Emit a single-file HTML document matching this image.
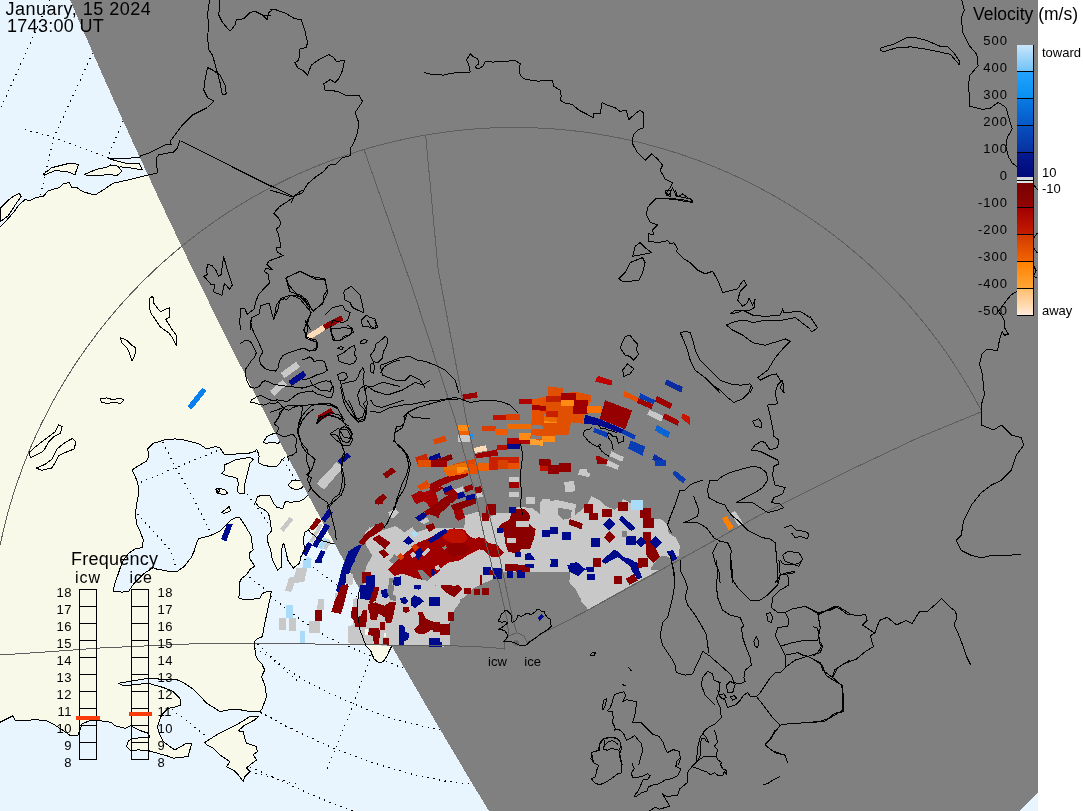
<!DOCTYPE html>
<html><head><meta charset="utf-8"><title>SuperDARN velocity map</title>
<style>
html,body{margin:0;padding:0;background:#fff;}
svg{display:block;}
text{font-family:"Liberation Sans",Arial,sans-serif;fill:#000;}
</style></head><body>
<svg width="1083" height="811" viewBox="0 0 1083 811" shape-rendering="crispEdges">
<defs>
<clipPath id="night"><polygon points="70.1,0 78.6,20 87.3,40 96.0,60 104.8,80 113.7,100 122.7,120 131.8,140 141.0,160 150.3,180 159.6,200 169.1,220 178.6,240 188.2,260 197.9,280 207.8,300 217.7,320 227.6,340 237.7,360 247.9,380 258.1,400 268.5,420 278.9,440 289.5,460 300.1,480 310.8,500 321.6,520 332.5,540 343.5,560 354.5,580 365.7,600 377.0,620 388.3,640 399.7,660 411.3,680 422.9,700 434.6,720 446.4,740 458.3,760 470.2,780 482.3,800 489,811 1083,811 1083,0"/></clipPath>
<clipPath id="day"><polygon points="0,0 70.1,0 78.6,20 87.3,40 96.0,60 104.8,80 113.7,100 122.7,120 131.8,140 141.0,160 150.3,180 159.6,200 169.1,220 178.6,240 188.2,260 197.9,280 207.8,300 217.7,320 227.6,340 237.7,360 247.9,380 258.1,400 268.5,420 278.9,440 289.5,460 300.1,480 310.8,500 321.6,520 332.5,540 343.5,560 354.5,580 365.7,600 377.0,620 388.3,640 399.7,660 411.3,680 422.9,700 434.6,720 446.4,740 458.3,760 470.2,780 482.3,800 489,811 0,811"/></clipPath>
<linearGradient id="g1" x1="0" y1="0" x2="0" y2="1"><stop offset="0" stop-color="#c8e6fa"/><stop offset="1" stop-color="#70c2f8"/></linearGradient>
<linearGradient id="g2" x1="0" y1="0" x2="0" y2="1"><stop offset="0" stop-color="#22a2fe"/><stop offset="1" stop-color="#0890f0"/></linearGradient>
<linearGradient id="g3" x1="0" y1="0" x2="0" y2="1"><stop offset="0" stop-color="#0a7ae2"/><stop offset="1" stop-color="#0658c8"/></linearGradient>
<linearGradient id="g4" x1="0" y1="0" x2="0" y2="1"><stop offset="0" stop-color="#0850c0"/><stop offset="1" stop-color="#0830a0"/></linearGradient>
<linearGradient id="g5" x1="0" y1="0" x2="0" y2="1"><stop offset="0" stop-color="#061a90"/><stop offset="1" stop-color="#020878"/></linearGradient>
<linearGradient id="r1" x1="0" y1="0" x2="0" y2="1"><stop offset="0" stop-color="#780000"/><stop offset="1" stop-color="#920404"/></linearGradient>
<linearGradient id="r2" x1="0" y1="0" x2="0" y2="1"><stop offset="0" stop-color="#a00000"/><stop offset="1" stop-color="#c41c00"/></linearGradient>
<linearGradient id="r3" x1="0" y1="0" x2="0" y2="1"><stop offset="0" stop-color="#d23a00"/><stop offset="1" stop-color="#f26400"/></linearGradient>
<linearGradient id="r4" x1="0" y1="0" x2="0" y2="1"><stop offset="0" stop-color="#ff8000"/><stop offset="1" stop-color="#ffa636"/></linearGradient>
<linearGradient id="r5" x1="0" y1="0" x2="0" y2="1"><stop offset="0" stop-color="#ffbe6e"/><stop offset="1" stop-color="#ffeada"/></linearGradient>
<clipPath id="waterclip">
<polygon points="0.0,-0.4 203.1,-0.4 203.1,151.1 177.3,148.3 173.6,152.0 158.8,154.8 156.0,158.5 157.0,167.7 157.9,172.9 147.7,175.1 129.3,179.7 112.7,183.4 103.4,189.9 95.1,195.0 84.9,192.3 81.3,190.8 77.6,188.0 72.0,187.5 69.3,182.8 63.7,183.4 59.1,187.6 48.0,190.8 43.4,196.3 36.0,197.6 29.5,200.6 24.9,199.5 18.5,205.6 13.9,212.0 7.4,219.4 0.0,226.8"/>
<polygon points="300.0,455.0 284.9,457.5 281.6,460.0 279.9,463.3 276.6,466.6 269.9,466.6 263.3,465.0 258.3,462.5 259.1,456.6 258.3,453.3 256.6,449.1 254.9,451.6 248.3,453.3 242.1,453.3 233.2,454.4 224.3,454.4 219.9,447.8 215.4,446.6 206.5,448.9 199.9,444.4 193.2,442.2 184.3,440.0 175.5,438.9 164.4,440.0 153.3,443.3 147.7,448.9 148.8,456.6 146.6,461.1 138.8,465.5 132.2,470.0 137.7,482.2 138.8,493.3 136.6,504.4 135.5,513.3 136.6,524.4 139.9,531.0 143.3,539.9 142.1,547.7 135.5,548.8 128.8,553.2 122.2,562.1 117.7,575.4 114.4,584.3 113.3,591.0 122.2,592.1 128.8,591.0 133.3,584.3 137.7,579.9 144.4,573.2 153.3,567.6 155.5,568.8 166.6,571.0 177.7,571.0 184.3,566.5 191.0,557.7 194.3,551.0 196.5,543.2 198.8,538.8 202.1,537.7 211.0,535.5 219.9,531.0 226.5,524.4 231.0,520.0 235.4,517.7 239.8,517.7 244.3,524.4 250.9,535.5 253.1,550.0 249.9,552.6 249.2,557.8 251.8,561.7 255.0,566.2 250.5,568.8 246.6,574.6 241.5,578.5 239.5,582.4 239.5,588.9 238.9,597.9 244.0,599.9 251.8,599.2 259.6,598.6 262.2,594.0 264.8,592.1 271.2,591.7 270.6,596.6 268.7,604.4 266.7,614.8 264.8,622.5 263.5,630.3 262.2,636.8 258.3,638.1 255.1,640.7 254.4,645.9 255.7,655.1 258.2,660.0 261.5,663.3 264.8,670.0 261.5,676.7 264.8,685.0 266.5,696.6 262.3,708.3 259.8,711.6 249.8,711.6 241.5,710.0 233.2,709.1 219.9,711.6 214.9,708.3 206.6,703.3 199.9,695.8 193.2,689.1 183.3,682.5 176.6,679.6 159.9,679.1 148.3,678.3 133.3,680.8 118.3,683.3 123.3,685.8 148.3,683.3 163.3,687.5 173.3,691.6 179.9,698.3 180.8,705.0 173.3,707.5 168.3,708.3 161.6,714.9 157.4,726.6 159.9,734.9 163.3,741.6 169.9,746.6 174.9,749.9 186.6,743.3 191.6,743.3 188.2,756.6 173.3,758.2 166.6,755.7 148.3,750.7 138.3,749.9 130.8,750.7 126.6,746.6 128.3,740.8 133.3,738.3 146.6,737.4 149.9,737.4 148.3,733.3 138.3,729.9 130.8,725.8 125.0,728.3 115.0,725.8 111.7,722.4 100.0,720.8 90.0,720.5 82.0,724.0 78.0,735.0 70.0,735.3 62.5,730.1 54.6,724.9 46.8,721.0 36.4,719.7 15.6,721.0 13.0,715.8 7.8,718.4 0.0,722.3 -2.0,722.3 -2.0,815.0 495.0,815.0 495.0,430.0 300.0,440.0"/>
<polygon points="263.3,442.5 266.6,436.7 271.6,434.2 275.7,433.3 279.9,436.7 281.6,440.0 278.2,443.3 271.6,442.5 266.6,443.3"/>
</clipPath>
</defs>
<!-- day side -->
<rect x="0" y="0" width="1083" height="811" fill="#f9f9ea"/>
<g clip-path="url(#day)">
<g fill="#e8f5fe" stroke="none">
<polygon points="0.0,-0.4 203.1,-0.4 203.1,151.1 177.3,148.3 173.6,152.0 158.8,154.8 156.0,158.5 157.0,167.7 157.9,172.9 147.7,175.1 129.3,179.7 112.7,183.4 103.4,189.9 95.1,195.0 84.9,192.3 81.3,190.8 77.6,188.0 72.0,187.5 69.3,182.8 63.7,183.4 59.1,187.6 48.0,190.8 43.4,196.3 36.0,197.6 29.5,200.6 24.9,199.5 18.5,205.6 13.9,212.0 7.4,219.4 0.0,226.8"/>
<polygon points="300.0,455.0 284.9,457.5 281.6,460.0 279.9,463.3 276.6,466.6 269.9,466.6 263.3,465.0 258.3,462.5 259.1,456.6 258.3,453.3 256.6,449.1 254.9,451.6 248.3,453.3 242.1,453.3 233.2,454.4 224.3,454.4 219.9,447.8 215.4,446.6 206.5,448.9 199.9,444.4 193.2,442.2 184.3,440.0 175.5,438.9 164.4,440.0 153.3,443.3 147.7,448.9 148.8,456.6 146.6,461.1 138.8,465.5 132.2,470.0 137.7,482.2 138.8,493.3 136.6,504.4 135.5,513.3 136.6,524.4 139.9,531.0 143.3,539.9 142.1,547.7 135.5,548.8 128.8,553.2 122.2,562.1 117.7,575.4 114.4,584.3 113.3,591.0 122.2,592.1 128.8,591.0 133.3,584.3 137.7,579.9 144.4,573.2 153.3,567.6 155.5,568.8 166.6,571.0 177.7,571.0 184.3,566.5 191.0,557.7 194.3,551.0 196.5,543.2 198.8,538.8 202.1,537.7 211.0,535.5 219.9,531.0 226.5,524.4 231.0,520.0 235.4,517.7 239.8,517.7 244.3,524.4 250.9,535.5 253.1,550.0 249.9,552.6 249.2,557.8 251.8,561.7 255.0,566.2 250.5,568.8 246.6,574.6 241.5,578.5 239.5,582.4 239.5,588.9 238.9,597.9 244.0,599.9 251.8,599.2 259.6,598.6 262.2,594.0 264.8,592.1 271.2,591.7 270.6,596.6 268.7,604.4 266.7,614.8 264.8,622.5 263.5,630.3 262.2,636.8 258.3,638.1 255.1,640.7 254.4,645.9 255.7,655.1 258.2,660.0 261.5,663.3 264.8,670.0 261.5,676.7 264.8,685.0 266.5,696.6 262.3,708.3 259.8,711.6 249.8,711.6 241.5,710.0 233.2,709.1 219.9,711.6 214.9,708.3 206.6,703.3 199.9,695.8 193.2,689.1 183.3,682.5 176.6,679.6 159.9,679.1 148.3,678.3 133.3,680.8 118.3,683.3 123.3,685.8 148.3,683.3 163.3,687.5 173.3,691.6 179.9,698.3 180.8,705.0 173.3,707.5 168.3,708.3 161.6,714.9 157.4,726.6 159.9,734.9 163.3,741.6 169.9,746.6 174.9,749.9 186.6,743.3 191.6,743.3 188.2,756.6 173.3,758.2 166.6,755.7 148.3,750.7 138.3,749.9 130.8,750.7 126.6,746.6 128.3,740.8 133.3,738.3 146.6,737.4 149.9,737.4 148.3,733.3 138.3,729.9 130.8,725.8 125.0,728.3 115.0,725.8 111.7,722.4 100.0,720.8 90.0,720.5 82.0,724.0 78.0,735.0 70.0,735.3 62.5,730.1 54.6,724.9 46.8,721.0 36.4,719.7 15.6,721.0 13.0,715.8 7.8,718.4 0.0,722.3 -2.0,722.3 -2.0,815.0 495.0,815.0 495.0,430.0 300.0,440.0"/>
<polygon points="263.3,442.5 266.6,436.7 271.6,434.2 275.7,433.3 279.9,436.7 281.6,440.0 278.2,443.3 271.6,442.5 266.6,443.3"/>
</g>
<g clip-path="url(#waterclip)" fill="none" stroke="#000" stroke-width="1.2" stroke-dasharray="1.3 4.5">
<polyline points="49.6,0.0 0.0,110.0"/>
<polyline points="116.0,0.0 91.2,56.2 53.8,137.5 40.0,197.5"/>
<polyline points="25.0,129.5 53.8,137.5 107.5,157.5 140.0,170.0"/>
<polyline points="140.0,90.0 122.5,122.5 107.5,157.5"/>
<polyline points="160.0,437.0 164.4,445.5 175.5,467.7 193.2,497.7 211.0,533.2 230.0,570.0"/>
<polyline points="130.0,486.0 138.8,483.3 175.5,467.7 213.2,452.2 240.0,442.0"/>
<polyline points="130.0,505.0 136.6,513.3 153.3,531.0 171.0,551.0 175.5,566.5"/>
<polyline points="240.0,485.0 246.5,493.3 256.6,506.6 264.9,518.2 268.2,523.2"/>
<polyline points="280.0,455.0 284.9,461.6 288.2,468.3 294.9,478.3 300.0,486.0"/>
<polyline points="240.0,570.0 247.9,575.9 255.7,582.4 264.8,588.9 271.2,596.6 277.7,601.8 285.5,608.3 295.9,616.1 306.2,623.8 313.9,627.9 327.7,637.6 338.6,642.2 354.2,648.9 369.7,655.5 387.4,662.2 405.1,668.8 430.0,678.0"/>
<polyline points="300.0,555.0 312.7,566.8 319.2,572.0 327.7,578.0 329.5,579.8 337.3,585.0 345.7,590.5 358.2,597.4 376.2,637.6"/>
<polyline points="161.3,704.1 169.9,708.3 188.2,721.6 208.2,737.9"/>
<polyline points="257.6,644.2 279.7,665.0 300.0,683.0"/>
<polyline points="259.8,711.6 280.3,723.3 300.0,733.0"/>
<polyline points="249.8,771.7 279.7,779.5 300.0,785.0"/>
<polyline points="250.0,645.0 256.6,648.9 283.2,666.6 305.4,681.0 327.6,692.1 351.9,703.2 374.1,712.0 396.3,719.8 418.4,725.3 440.6,729.8 470.0,735.0"/>
<polyline points="255.0,711.0 262.2,713.1 283.2,724.2 305.4,735.3 334.2,748.6 360.8,758.6 387.4,767.4 416.2,775.2 442.8,780.7 469.4,784.0 490.0,786.0"/>
<polyline points="250.0,767.0 258.9,770.7 283.2,781.8 307.6,792.9 334.2,804.0 351.9,810.6 356.0,813.0"/>
<polyline points="372.0,654.0 369.7,660.0 363.0,677.7 354.2,702.0 345.3,724.2 336.4,746.4 325.3,773.0"/>
</g>
<g fill="#f9f9ea" stroke="none">
<polygon points="221.6,473.3 225.0,470.0 224.2,465.0 228.3,463.3 234.9,460.0 243.3,458.3 249.9,457.5 253.3,459.1 249.9,463.3 248.3,470.0 246.6,476.6 244.9,483.3 244.1,493.3 239.9,494.1 237.4,491.6 238.3,483.3 237.4,478.3 231.6,476.6 226.6,475.8"/>
<polygon points="255.7,502.2 257.6,496.7 261.3,495.3 269.6,495.3 271.5,498.5 273.3,503.1 277.0,507.3 282.6,508.7 284.4,504.1 285.3,501.7 291.8,502.2 299.2,501.3 303.8,499.4 306.6,496.7 308.9,493.9 350.0,494.0 350.0,545.0 332.5,543.8 320.0,540.0 310.0,532.0 308.5,530.0 305.2,531.8 303.8,536.4 303.4,542.9 305.2,548.5 304.9,550.0 301.0,556.5 299.7,563.0 293.3,568.1 287.9,560.4 285.5,550.0 285.3,549.4 283.9,543.8 282.6,544.8 281.6,550.0 281.6,566.8 277.7,570.1 272.5,560.4 270.6,550.0 268.7,544.8 267.3,540.1 267.8,535.5 271.5,530.9 270.5,522.6 269.6,517.0 267.8,512.4 264.1,509.6 258.5,506.8"/>
<polygon points="204.9,742.4 216.6,734.9 226.5,729.9 236.5,724.9 249.9,716.6 258.2,716.6 254.8,719.9 244.9,724.9 238.2,730.8 243.2,731.6 244.9,738.3 246.5,743.3 256.5,746.6 257.3,751.6 253.2,754.9 256.5,759.9 249.9,764.9 246.5,768.2 249.9,771.6 244.9,776.6 243.2,781.5 238.2,774.9 233.2,769.9 226.5,766.6 229.9,761.6 219.9,754.9 213.2,748.2 206.6,744.9"/>
<polygon points="358.5,594.0 363.1,575.5 372.4,553.9 380.0,540.0 420.0,540.0 420.0,646.0 391.6,646.4 389.3,651.0 386.3,657.2 383.2,661.8 378.5,662.6 373.9,658.7 370.8,651.0 366.2,646.4 360.0,630.0 357.0,610.0"/>
<polygon points="215.8,489.1 220.0,488.3 225.0,489.9 227.5,493.3 224.1,494.9 219.1,493.3"/>
<polygon points="221.6,512.4 225.0,509.9 229.1,506.6 230.8,510.8 227.5,512.4 223.3,513.3"/>
<polygon points="288.1,485.1 290.0,482.8 292.7,480.0 302.9,480.0 303.8,485.6 301.1,488.3 296.4,489.7 291.8,488.3"/>
<polygon points="215.8,491.0 220.0,489.0 218.0,494.0"/><polygon points="43.4,174.2 51.7,167.7 70.2,163.1 78.5,164.4 74.8,175.1 70.2,172.3 55.4,170.5 44.3,175.1"/>
<polygon points="84.0,174.7 96.0,169.5 106.2,167.3 110.8,164.9 118.2,166.2 121.9,171.4 116.3,176.0 110.8,174.2 103.4,175.1 96.0,176.0 86.8,175.1"/>
<polygon points="0.9,207.4 7.4,200.9 14.8,195.4 19.4,193.6 21.2,196.3 16.6,202.8 12.0,210.2 8.3,215.7 2.8,219.8 0.0,221.3"/>
<polygon points="108.0,158.5 129.3,164.0 139.4,163.6 142.2,169.9 129.3,167.7 120.0,166.8"/>
</g>
</g>
<!-- night side -->
<polygon fill="#808080" shape-rendering="crispEdges" points="70.1,0.0 74.4,10.0 78.6,20.0 83.0,30.0 87.3,40.0 91.6,50.0 96.0,60.0 100.4,70.0 104.8,80.0 109.3,90.0 113.7,100.0 118.2,110.0 122.7,120.0 127.3,130.0 131.8,140.0 136.4,150.0 141.0,160.0 145.6,170.0 150.3,180.0 154.9,190.0 159.6,200.0 164.3,210.0 169.1,220.0 173.8,230.0 178.6,240.0 183.4,250.0 188.2,260.0 193.1,270.0 197.9,280.0 202.8,290.0 207.8,300.0 212.7,310.0 217.7,320.0 222.6,330.0 227.6,340.0 232.7,350.0 237.7,360.0 242.8,370.0 247.9,380.0 253.0,390.0 258.1,400.0 263.3,410.0 268.5,420.0 273.7,430.0 278.9,440.0 284.2,450.0 289.5,460.0 294.8,470.0 300.1,480.0 305.4,490.0 310.8,500.0 316.2,510.0 321.6,520.0 327.0,530.0 332.5,540.0 338.0,550.0 343.5,560.0 349.0,570.0 354.5,580.0 360.1,590.0 365.7,600.0 371.3,610.0 377.0,620.0 382.6,630.0 388.3,640.0 394.0,650.0 399.7,660.0 405.5,670.0 411.3,680.0 417.1,690.0 422.9,700.0 428.7,710.0 434.6,720.0 440.5,730.0 446.4,740.0 452.3,750.0 458.3,760.0 464.2,770.0 470.2,780.0 476.2,790.0 482.3,800.0 488.4,810.0 489.0,811.0 1083,811 1083,0"/>

<g id="radar" shape-rendering="crispEdges">
<line stroke="#ffdcb8" stroke-width="5.5" x1="307.0" y1="338.2" x2="324.0" y2="327.4"/>
<line stroke="#8a0000" stroke-width="5.5" x1="324.0" y1="327.4" x2="342.5" y2="317.8"/>
<line stroke="#c8c8c8" stroke-width="6.5" x1="272.2" y1="393.3" x2="284.8" y2="382.1"/>
<line stroke="#c8c8c8" stroke-width="6.5" x1="282.6" y1="375.5" x2="298.1" y2="364.4"/>
<line stroke="#000a8c" stroke-width="6" x1="290.0" y1="383.6" x2="304.8" y2="373.3"/>
<polygon fill="#000a8c" points="337.3,460.7 347.0,452.6 351.1,456.3 341.0,464.4"/>
<polygon fill="#c8c8c8" points="316.6,483.6 336.6,462.2 343.3,467.4 324.0,489.6"/>
<polygon fill="#8a0000" points="382.5,474.0 392.1,467.4 395.8,471.8 386.2,478.5"/>
<polygon fill="#8a0000" points="374.4,500.7 383.2,493.3 386.9,497.7 378.1,505.1"/>
<polygon fill="#c8c8c8" points="388.4,514.7 395.1,508.8 399.5,512.5 392.9,518.4"/>
<polygon fill="#e65000" points="415.1,457.7 426.2,453.3 430.0,462.9 418.0,467.4"/>
<polygon fill="#e65000" points="417.3,485.9 427.6,480.7 430.0,488.1 421.0,490.3"/>
<line stroke="#c8c8c8" stroke-width="4.5" x1="281.8" y1="530.3" x2="291.5" y2="518.4"/>
<polygon fill="#9a0000" points="462.3,394.6 476.9,392.1 477.8,397.4 463.0,399.9"/>
<polygon fill="#ff8a14" points="457.5,425.1 468.6,425.1 468.6,431.3 457.5,431.3"/>
<polygon fill="#f06000" points="458.9,431.3 468.6,431.3 468.6,434.8 458.9,434.8"/>
<polygon fill="#c8c8c8" points="457.5,434.8 469.9,434.8 469.9,441.7 457.5,441.7"/>
<polygon fill="#1492f5" points="469.9,434.1 472.7,434.1 472.7,438.9 469.9,438.9"/>
<polygon fill="#dc4600" points="433.2,439.6 445.0,435.5 446.8,441.0 434.6,444.5"/>
<polygon fill="#c82800" points="415.2,457.6 426.3,453.5 429.8,462.5 418.7,467.3"/>
<polygon fill="#000a8c" points="428.4,457.0 439.5,453.1 440.9,457.6 429.8,461.8"/>
<polygon fill="#800000" points="429.8,461.8 451.2,454.2 452.9,459.0 431.9,467.3"/>
<polygon fill="#dc4600" points="444.3,467.3 466.5,460.4 474.8,459.0 475.5,472.3 444.3,472.3"/>
<polygon fill="#ff8a14" points="455.4,467.3 466.5,467.3 466.5,472.3 455.4,472.3"/>
<polygon fill="#ffdcb8" points="474.1,448.0 485.9,445.2 487.0,450.7 474.8,452.8"/>
<polygon fill="#a00000" points="474.8,454.2 497.0,449.3 498.3,455.6 476.2,458.3"/>
<polygon fill="#b41000" points="497.0,445.2 506.6,445.2 506.6,450.0 497.0,450.0"/>
<polygon fill="#000a8c" points="506.6,443.8 519.8,443.8 519.8,448.6 506.6,448.6"/>
<polygon fill="#b00000" points="507.3,438.3 529.5,438.3 529.5,443.8 507.3,443.8"/>
<polygon fill="#ff8a14" points="519.1,432.7 531.6,432.7 531.6,439.6 519.1,439.6"/>
<polygon fill="#ffa030" points="530.2,438.9 542.7,438.9 542.7,445.2 530.2,445.2"/>
<polygon fill="#dc3c00" points="481.7,425.8 495.6,425.8 495.6,431.3 481.7,431.3"/>
<polygon fill="#f05a00" points="494.9,429.3 508.0,429.3 508.0,434.8 494.9,434.8"/>
<polygon fill="#c01000" points="492.8,414.7 506.0,414.7 506.0,420.2 492.8,420.2"/>
<polygon fill="#dc4000" points="506.0,414.0 519.8,414.0 519.8,419.6 506.0,419.6"/>
<polygon fill="#f06a00" points="506.6,423.7 531.6,423.7 531.6,429.3 506.6,429.3"/>
<polygon fill="#b00000" points="519.1,398.8 533.0,398.8 533.0,404.3 519.1,404.3"/>
<polygon fill="#e85000" points="531.6,399.5 550.0,396.0 550.0,441.7 542.7,441.7 530.2,437.6 531.6,429.3 530.9,423.7 532.3,418.2"/>
<polygon fill="#ff8a14" points="544.0,418.2 550.0,418.2 550.0,425.1 544.0,425.1"/>
<polygon fill="#ff8a14" points="542.7,433.4 550.0,433.4 550.0,440.3 542.7,440.3"/>
<polygon fill="#c82000" points="488.6,457.0 519.1,457.0 519.1,469.4 488.6,469.4"/>
<polygon fill="#d04000" points="497.0,462.5 519.1,462.5 519.1,469.4 497.0,469.4"/>
<polygon fill="#8a0000" points="538.5,459.0 550.0,459.0 550.0,465.3 538.5,465.3"/>
<polygon fill="#f06000" points="548.2,386.3 550.0,386.3 550.0,391.9 548.2,391.9"/>
<polygon fill="#e05000" points="540.0,400.2 548.3,397.4 547.6,386.3 563.5,388.4 562.9,393.2 576.7,391.9 591.2,395.3 590.6,401.6 587.8,405.7 587.1,412.6 584.3,415.4 582.9,423.7 571.2,422.3 568.4,434.8 554.5,435.5 553.9,442.4 542.1,441.7 540.0,442.4"/>
<polygon fill="#a00000" points="560.8,393.2 576.0,393.2 576.0,400.2 560.8,400.2"/>
<polygon fill="#a00000" points="573.2,400.2 587.8,400.2 587.8,414.0 573.2,414.0"/>
<polygon fill="#c02000" points="545.5,396.0 560.8,396.0 560.8,401.6 545.5,401.6"/>
<polygon fill="#c00000" points="540.0,405.7 545.5,405.7 545.5,411.2 540.0,411.2"/>
<polygon fill="#c82000" points="545.5,411.2 558.0,411.2 558.0,416.8 545.5,416.8"/>
<polygon fill="#ff8a14" points="560.8,400.2 573.9,400.2 573.9,405.7 560.8,405.7"/>
<polygon fill="#ff8a14" points="544.2,418.2 556.6,418.2 556.6,423.0 544.2,423.0"/>
<polygon fill="#ff8a14" points="542.1,436.2 554.5,436.2 554.5,441.7 542.1,441.7"/>
<polygon fill="#ff7000" points="587.1,405.7 600.9,405.7 600.9,412.6 587.1,412.6"/>
<polygon fill="#ffa030" points="540.0,440.3 542.8,440.3 542.8,445.9 540.0,445.9"/>
<polygon fill="#c00000" points="596.1,378.0 598.2,375.9 612.7,380.8 611.3,385.6 595.4,381.5"/>
<polygon fill="#960000" points="605.1,400.2 632.1,410.6 625.2,429.3 599.6,418.9"/>
<polygon fill="#000a8c" points="585.0,414.7 599.6,418.9 623.1,429.3 621.7,433.4 598.2,425.1 583.6,423.7"/>
<polygon fill="#0a3cb4" points="594.7,427.9 607.9,432.7 606.5,437.6 593.3,432.0"/>
<polygon fill="#0a3cb4" points="623.1,429.3 635.6,435.5 634.2,439.6 621.7,433.4"/>
<polygon fill="#0a3cb4" points="630.7,440.3 645.3,446.6 642.5,455.6 628.0,448.6"/>
<polygon fill="#e85000" points="624.5,391.2 638.3,397.4 637.0,402.2 623.1,396.0"/>
<polygon fill="#0a3cb4" points="640.4,393.2 655.0,400.2 653.6,404.3 639.0,398.1"/>
<polygon fill="#a00000" points="638.3,398.1 652.9,404.3 651.5,409.2 637.0,402.9"/>
<polygon fill="#a00000" points="657.0,396.0 672.3,403.6 670.2,409.2 655.0,401.6"/>
<polygon fill="#c8c8c8" points="649.4,409.6 663.3,416.1 661.2,421.6 647.3,414.7"/>
<polygon fill="#a00000" points="664.7,413.3 679.2,420.9 677.8,425.8 662.6,418.2"/>
<polygon fill="#0a64d2" points="657.0,425.1 670.2,432.0 668.1,438.3 655.0,430.6"/>
<polygon fill="#0a2ca0" points="666.7,379.4 682.7,387.0 681.3,392.5 664.7,384.2"/>
<polygon fill="#c81400" points="682.7,413.3 690.0,416.8 690.0,425.1 681.3,418.2"/>
<polygon fill="#0a2ca0" points="654.3,454.2 666.0,461.1 664.0,466.6 652.2,459.7"/>
<polygon fill="#c8c8c8" points="611.3,451.4 623.8,457.0 622.4,461.8 609.9,456.3"/>
<polygon fill="#a00000" points="596.8,455.3 608.6,460.4 607.2,464.6 595.4,459.4"/>
<polygon fill="#c8c8c8" points="607.9,460.0 618.9,465.3 617.6,469.4 606.2,463.9"/>
<polygon fill="#8a0000" points="540.0,459.7 551.1,459.7 551.1,465.3 540.0,465.3"/>
<polygon fill="#8a0000" points="548.3,465.3 559.4,465.3 559.4,472.3 548.3,472.3"/>
<polygon fill="#8a0000" points="559.4,463.2 570.5,463.2 570.5,470.8 559.4,470.8"/>
<polygon fill="#c8c8c8" points="579.5,469.4 587.1,469.4 587.1,472.3 579.5,472.3"/>
<polygon fill="#c8c8c8" points="465.1,515.4 477.6,511.9 484.5,520.9 497.0,512.6 510.8,512.6 517.7,507.1 531.6,507.8 539.9,514.0 550.0,512.6 550.0,572.3 441.6,572.3 444.3,559.7 458.2,550.0 467.9,537.6 466.5,526.5"/>
<polygon fill="#c8c8c8" points="400.0,527.9 408.3,526.5 415.2,532.0 408.3,543.1 400.0,545.9"/>
<polygon fill="#e87000" points="442.9,466.9 466.5,462.1 469.3,473.9 447.1,476.6"/>
<polygon fill="#ff9010" points="456.8,466.9 467.9,466.9 467.9,472.5 456.8,472.5"/>
<polygon fill="#e85000" points="469.3,464.2 477.6,464.2 477.6,473.9 469.3,473.9"/>
<polygon fill="#f06000" points="477.6,462.8 488.6,462.8 488.6,471.1 477.6,471.1"/>
<polygon fill="#c82000" points="488.6,464.2 498.3,464.2 498.3,470.4 488.6,470.4"/>
<polygon fill="#d84000" points="498.3,460.0 508.0,460.0 508.0,468.3 498.3,468.3"/>
<polygon fill="#e85000" points="508.0,462.8 519.1,462.8 519.1,469.0 508.0,469.0"/>
<polygon fill="#e05000" points="418.0,460.0 430.5,460.0 430.5,466.9 418.0,466.9"/>
<polygon fill="#9a0000" points="430.5,460.0 447.1,460.0 447.1,466.9 430.5,466.9"/>
<polygon fill="#c8c8c8" points="509.4,476.6 519.1,476.6 519.1,482.2 509.4,482.2"/>
<polygon fill="#a00000" points="509.4,482.2 519.1,482.2 519.1,487.7 509.4,487.7"/>
<polygon fill="#c8c8c8" points="509.4,491.9 519.1,491.9 519.1,497.4 509.4,497.4"/>
<polygon fill="#900000" points="485.9,504.3 495.6,504.3 495.6,515.4 485.9,515.4"/>
<polygon fill="#900000" points="482.4,512.6 488.6,512.6 488.6,520.9 482.4,520.9"/>
<polygon fill="#c8c8c8" points="526.0,497.4 535.0,497.4 535.0,503.6 526.0,503.6"/>
<polygon fill="#c8c8c8" points="542.0,498.8 550.0,498.8 550.0,507.1 542.0,507.1"/>
<polygon fill="#9a0000" points="404.2,537.6 413.9,533.4 427.7,537.6 441.6,529.3 449.9,527.9 460.9,532.0 472.0,537.6 483.1,537.6 488.6,543.1 497.0,544.5 503.9,552.8 499.7,557.0 491.4,557.0 483.1,550.0 469.3,551.4 459.6,555.6 448.5,557.0 445.7,565.3 437.4,572.3 400.0,572.3 400.0,543.1"/>
<polygon fill="#000a8c" points="426.3,538.9 444.3,527.9 447.1,532.0 429.1,543.1"/>
<polygon fill="#000a8c" points="405.5,537.6 412.5,537.6 412.5,545.9 405.5,545.9"/>
<polygon fill="#aadcfa" points="409.7,530.6 418.0,530.6 418.0,537.6 409.7,537.6"/>
<polygon fill="#c8c8c8" points="409.7,551.4 416.6,551.4 416.6,559.7 409.7,559.7"/>
<polygon fill="#c8c8c8" points="420.8,545.9 429.1,545.9 429.1,555.6 420.8,555.6"/>
<polygon fill="#c8c8c8" points="408.3,543.1 412.5,543.1 412.5,548.6 408.3,548.6"/>
<polygon fill="#000a8c" points="415.2,547.3 423.5,547.3 423.5,557.0 415.2,557.0"/>
<polygon fill="#000a8c" points="415.2,557.0 420.8,557.0 420.8,563.9 415.2,563.9"/>
<polygon fill="#e05000" points="400.0,551.4 405.5,551.4 405.5,559.7 400.0,559.7"/>
<polygon fill="#c8c8c8" points="433.2,563.9 440.2,563.9 440.2,570.8 433.2,570.8"/>
<polygon fill="#c01000" points="441.6,532.0 455.4,532.0 455.4,543.1 441.6,543.1"/>
<polygon fill="#8a0000" points="510.8,508.5 524.7,508.5 530.2,515.4 528.8,523.7 535.7,529.3 534.3,537.6 530.2,548.6 521.9,548.6 517.7,554.2 508.0,551.4 505.3,543.1 503.9,532.0 497.0,532.0 499.7,525.1 509.4,519.6 510.8,515.4"/>
<polygon fill="#c8c8c8" points="516.3,520.9 528.8,520.9 528.8,526.5 516.3,526.5"/>
<polygon fill="#c8c8c8" points="506.6,537.6 516.3,537.6 516.3,543.1 506.6,543.1"/>
<polygon fill="#000a8c" points="509.4,507.1 516.3,507.1 516.3,512.6 509.4,512.6"/>
<polygon fill="#000a8c" points="497.0,527.9 503.2,527.9 503.2,533.4 497.0,533.4"/>
<polygon fill="#000a8c" points="542.7,530.6 548.2,530.6 548.2,536.2 542.7,536.2"/>
<polygon fill="#000a8c" points="515.0,552.1 520.5,552.1 520.5,557.0 515.0,557.0"/>
<polygon fill="#000a8c" points="524.7,554.2 530.2,552.8 537.1,562.5 533.0,568.0 526.0,565.3"/>
<polygon fill="#000a8c" points="483.1,566.6 499.7,566.6 499.7,572.3 483.1,572.3"/>
<polygon fill="#8a0000" points="505.3,562.5 516.3,562.5 516.3,570.8 505.3,570.8"/>
<polygon fill="#8a0000" points="516.3,565.3 524.7,565.3 524.7,572.3 516.3,572.3"/>
<polygon fill="#c01000" points="539.9,460.0 550.0,460.0 550.0,471.1 539.9,471.1"/>
<polygon fill="#c8c8c8" points="540.0,501.6 558.0,500.2 576.0,504.3 574.6,515.4 587.1,505.7 591.2,496.0 599.6,500.2 605.1,505.7 614.8,509.9 619.6,505.7 623.1,498.8 630.0,502.9 634.2,501.6 645.3,512.6 650.8,518.2 661.9,519.6 667.4,525.1 668.8,533.4 675.7,537.6 679.9,545.9 678.5,555.6 673.0,559.7 664.7,555.6 659.1,557.0 650.8,568.0 648.0,572.3 540.0,572.3"/>
<polygon fill="#808080" points="558.0,507.8 571.9,509.9 570.5,518.2 563.5,519.6 558.0,514.0"/>
<polygon fill="#c8c8c8" points="564.2,482.2 573.9,480.8 575.3,491.2 565.6,492.5"/>
<polygon fill="#c8c8c8" points="579.5,470.4 590.6,473.2 589.2,477.3 578.1,474.5"/>
<polygon fill="#c8c8c8" points="607.9,461.4 618.9,465.5 617.6,469.7 606.5,465.5"/>
<polygon fill="#900000" points="540.0,460.0 551.1,460.0 551.1,465.5 540.0,465.5"/>
<polygon fill="#900000" points="548.3,465.5 559.4,465.5 559.4,473.9 548.3,473.9"/>
<polygon fill="#900000" points="559.4,464.2 570.5,464.2 570.5,471.8 559.4,471.8"/>
<polygon fill="#900000" points="596.8,460.0 606.5,460.0 606.5,464.2 596.8,464.2"/>
<polygon fill="#0a3cb4" points="655.0,460.0 666.0,460.0 666.0,466.2 655.0,466.2"/>
<polygon fill="#0a3cb4" points="675.0,470.4 686.1,479.4 682.7,483.5 672.3,473.9"/>
<polygon fill="#8a0000" points="584.3,504.3 593.3,504.3 593.3,512.6 584.3,512.6"/>
<polygon fill="#8a0000" points="588.5,512.6 598.2,512.6 598.2,520.2 588.5,520.2"/>
<polygon fill="#8a0000" points="569.8,518.9 582.9,523.7 581.6,529.3 568.4,524.4"/>
<polygon fill="#8a0000" points="601.6,508.5 612.0,508.5 612.0,516.8 601.6,516.8"/>
<polygon fill="#8a0000" points="617.6,502.2 628.0,502.2 628.0,511.2 617.6,511.2"/>
<polygon fill="#8a0000" points="639.7,507.8 650.8,507.8 650.8,518.2 639.7,518.2"/>
<polygon fill="#8a0000" points="643.2,518.2 653.6,518.2 653.6,527.9 643.2,527.9"/>
<polygon fill="#8a0000" points="609.3,531.3 615.5,536.9 609.3,543.1 603.7,537.6"/>
<polygon fill="#8a0000" points="643.2,532.0 650.8,532.0 650.8,541.7 643.2,541.7"/>
<polygon fill="#8a0000" points="645.3,541.7 653.6,543.1 659.8,557.0 653.6,563.2 646.6,555.6"/>
<polygon fill="#8a0000" points="592.6,558.3 600.9,558.3 600.9,566.6 592.6,566.6"/>
<polygon fill="#8a0000" points="638.3,559.0 646.6,559.0 646.6,568.0 638.3,568.0"/>
<polygon fill="#aadcfa" points="631.4,500.2 642.5,500.2 642.5,509.9 631.4,509.9"/>
<polygon fill="#000a8c" points="609.3,518.2 615.5,523.7 609.3,530.6 603.0,524.4"/>
<polygon fill="#000a8c" points="621.7,515.4 635.6,527.9 631.4,531.3 618.9,519.6"/>
<polygon fill="#000a8c" points="542.1,529.9 549.7,529.9 549.7,536.9 542.1,536.9"/>
<polygon fill="#000a8c" points="549.7,527.2 558.0,527.2 558.0,534.1 549.7,534.1"/>
<polygon fill="#000a8c" points="562.2,532.0 570.5,532.0 570.5,539.6 562.2,539.6"/>
<polygon fill="#000a8c" points="591.2,538.3 600.2,538.3 600.2,546.6 591.2,546.6"/>
<polygon fill="#000a8c" points="625.9,535.5 635.6,535.5 635.6,544.5 625.9,544.5"/>
<polygon fill="#000a8c" points="641.1,536.2 646.6,541.7 641.1,547.3 635.6,541.7"/>
<polygon fill="#000a8c" points="655.7,536.2 661.9,542.4 655.7,548.6 649.4,542.4"/>
<polygon fill="#000a8c" points="600.9,561.1 614.8,549.3 617.6,551.4 623.1,557.0 628.6,558.3 641.1,565.3 637.0,569.4 628.6,565.3 617.6,557.0 605.1,563.9"/>
<polygon fill="#000a8c" points="667.4,551.4 673.0,550.0 677.1,558.3 673.0,561.1"/>
<polygon fill="#000a8c" points="550.4,559.0 558.0,559.0 558.0,566.6 550.4,566.6"/>
<polygon fill="#000a8c" points="567.7,565.3 577.4,562.5 585.7,569.4 584.3,572.3 569.1,572.3"/>
<polygon fill="#000a8c" points="585.7,566.6 594.0,566.6 594.0,572.3 585.7,572.3"/>
<polygon fill="#808080" points="621.7,531.3 627.3,531.3 627.3,536.9 621.7,536.9"/>
<polygon fill="#8a0000" points="309.2,528.4 316.8,517.3 321.6,520.8 313.3,530.5"/>
<polygon fill="#000a8c" points="320.9,519.4 327.9,509.0 332.7,512.5 325.1,522.2"/>
<polygon fill="#c8c8c8" points="309.2,541.6 319.6,523.5 323.0,524.9 312.6,542.9"/>
<polygon fill="#000a8c" points="311.9,545.7 325.1,523.5 329.9,526.3 316.8,547.8"/>
<polygon fill="#000a8c" points="301.6,553.3 307.8,542.2 312.6,544.3 306.4,556.1"/>
<polygon fill="#aadcfa" points="318.2,547.8 323.7,537.4 328.6,539.5 322.3,549.2"/>
<polygon fill="#c8c8c8" points="323.0,549.2 327.9,539.5 331.3,541.6 326.5,549.9"/>
<polygon fill="#000a8c" points="316.1,559.6 320.9,549.9 325.8,551.9 320.2,562.3"/>
<polygon fill="#aadcfa" points="302.2,567.9 307.1,556.8 311.9,558.9 306.4,569.3"/>
<polygon fill="#c8c8c8" points="284.9,590.7 289.1,577.6 293.9,576.9 296.7,567.9 307.1,569.3 304.3,581.7 294.6,583.1 291.2,592.1"/>
<polygon fill="#c8c8c8" points="316.8,610.8 318.2,599.0 323.7,599.7 322.3,612.3"/>
<polygon fill="#aadcfa" points="286.3,612.3 287.7,605.3 292.5,606.0 291.9,612.3"/>
<polygon fill="#000a8c" points="336.9,592.1 339.6,577.6 343.1,565.1 348.6,551.2 357.0,545.7 362.5,544.3 358.3,552.6 352.8,563.7 349.3,573.4 344.5,585.9 341.7,592.1"/>
<polygon fill="#c8c8c8" points="348.0,575.5 351.4,574.8 352.1,584.5 348.6,585.2"/>
<polygon fill="#8a0000" points="332.0,612.3 334.8,599.7 341.7,585.9 348.6,583.8 345.9,597.0 341.7,612.3"/>
<polygon fill="#c8c8c8" points="334.8,592.8 339.6,593.1 340.3,602.5 335.5,602.5"/>
<polygon fill="#8a0000" points="359.0,541.6 365.3,535.3 369.4,538.8 363.2,545.7"/>
<polygon fill="#c8c8c8" points="357.0,612.3 359.7,597.0 363.9,572.0 370.8,558.2 368.0,545.7 365.3,531.9 370.8,527.7 379.1,523.5 387.4,527.7 397.1,524.9 410.0,530.5 410.0,612.3"/>
<polygon fill="#808080" points="396.4,574.8 399.9,577.6 394.3,597.0 388.8,599.7 387.4,595.6"/>
<polygon fill="#8a0000" points="375.0,523.5 384.7,523.5 384.7,531.9 375.0,531.9"/>
<polygon fill="#8a0000" points="372.2,536.0 388.8,536.0 388.8,548.5 372.2,548.5"/>
<polygon fill="#8a0000" points="380.5,551.2 388.8,551.2 388.8,558.2 380.5,558.2"/>
<polygon fill="#8a0000" points="388.8,547.1 398.5,547.1 398.5,555.4 388.8,555.4"/>
<polygon fill="#b01000" points="398.5,545.7 410.0,545.7 410.0,559.6 398.5,559.6"/>
<polygon fill="#dc4600" points="396.4,552.6 404.7,552.6 404.7,560.9 396.4,560.9"/>
<polygon fill="#a00000" points="387.4,565.1 410.0,565.1 410.0,577.6 387.4,577.6"/>
<polygon fill="#8a0000" points="361.1,572.0 370.8,572.0 370.8,581.7 361.1,581.7"/>
<polygon fill="#8a0000" points="370.8,585.9 380.5,585.9 380.5,605.3 370.8,605.3"/>
<polygon fill="#8a0000" points="376.3,599.7 393.0,599.7 393.0,612.3 376.3,612.3"/>
<polygon fill="#8a0000" points="354.2,605.3 365.3,605.3 365.3,612.3 354.2,612.3"/>
<polygon fill="#000a8c" points="362.5,577.6 370.8,574.8 375.0,585.9 370.8,599.7 362.5,599.7"/>
<polygon fill="#000a8c" points="391.6,577.6 399.9,577.6 399.9,585.9 391.6,585.9"/>
<polygon fill="#000a8c" points="381.9,588.6 390.2,588.6 390.2,598.3 381.9,598.3"/>
<polygon fill="#000a8c" points="401.3,597.0 408.2,597.0 408.2,605.3 401.3,605.3"/>
<polygon fill="#000a8c" points="406.8,537.4 410.0,537.4 410.0,542.9 406.8,542.9"/>
<polygon fill="#c8c8c8" points="388.1,512.5 395.7,508.3 398.5,513.9 390.9,518.0"/>
<polygon fill="#8a0000" points="375.0,500.0 383.3,500.0 383.3,504.2 375.0,504.2"/>
<polygon fill="#c8c8c8" points="300.0,568.3 306.2,567.6 304.2,582.2 300.0,582.2"/>
<polygon fill="#aadcfa" points="302.8,560.0 311.1,560.0 311.1,568.3 302.8,568.3"/>
<polygon fill="#000a8c" points="315.2,560.0 322.2,560.0 322.2,562.8 315.2,562.8"/>
<polygon fill="#000a8c" points="336.0,591.2 341.6,569.7 347.1,560.0 355.4,560.0 347.1,575.2 341.6,592.5"/>
<polygon fill="#c8c8c8" points="346.4,573.9 352.6,573.9 352.6,583.5 346.4,583.5"/>
<polygon fill="#c8c8c8" points="334.6,592.5 340.2,592.5 340.2,601.6 334.6,601.6"/>
<polygon fill="#8a0000" points="331.2,611.9 334.6,601.6 341.6,584.9 349.2,585.6 342.9,601.6 340.9,614.0"/>
<polygon fill="#c8c8c8" points="318.0,598.8 324.2,598.8 324.2,609.9 318.0,609.9"/>
<polygon fill="#8a0000" points="314.5,609.9 322.2,609.9 322.2,620.9 314.5,620.9"/>
<polygon fill="#c8c8c8" points="309.0,620.9 320.1,620.9 320.1,633.4 309.0,633.4"/>
<polygon fill="#aadcfa" points="300.0,630.6 304.8,630.6 304.8,643.1 300.0,643.1"/>
<polygon fill="#c8c8c8" points="347.8,643.1 348.5,626.5 352.6,625.1 353.3,598.8 359.6,597.4 360.9,576.6 365.1,571.1 369.3,560.0 450.0,560.0 450.0,645.2 391.4,645.9 355.4,644.5"/>
<polygon fill="#000a8c" points="360.9,572.5 372.0,573.9 375.5,586.3 370.6,600.2 359.6,598.8"/>
<polygon fill="#8a0000" points="360.9,571.1 372.0,571.1 372.0,580.8 360.9,580.8"/>
<polygon fill="#9a0000" points="388.6,568.3 397.0,562.8 399.7,560.0 445.4,560.0 445.4,564.2 441.3,579.4 433.0,578.0 430.2,572.5 419.1,571.1 410.8,575.2 399.7,575.2 394.2,576.6"/>
<polygon fill="#b40000" points="399.7,561.4 424.7,561.4 424.7,569.7 399.7,569.7"/>
<polygon fill="#808080" points="388.6,560.0 397.0,560.0 397.0,565.5 388.6,565.5"/>
<polygon fill="#808080" points="419.1,571.1 423.3,568.3 438.5,583.5 435.7,586.3"/>
<polygon fill="#000a8c" points="428.8,637.6 441.3,637.6 441.3,647.3 428.8,647.3"/>
<polygon fill="#8a0000" points="446.8,612.6 450.0,612.6 450.0,619.6 446.8,619.6"/>
<polygon fill="#8a0000" points="434.3,566.9 445.4,566.9 445.4,579.4 434.3,579.4"/>
<polygon fill="#000a8c" points="413.6,582.2 420.5,582.2 420.5,589.1 413.6,589.1"/>
<polygon fill="#000a8c" points="428.8,597.4 439.9,597.4 439.9,605.7 428.8,605.7"/>
<polygon fill="#000a8c" points="431.6,568.3 437.1,568.3 437.1,575.2 431.6,575.2"/>
<polygon fill="#8a0000" points="433.0,622.3 450.0,622.3 450.0,632.0 433.0,632.0"/>
<polygon fill="#c8c8c8" points="440.0,560.0 500.9,560.0 500.9,576.6 495.4,578.0 480.2,584.9 471.9,589.1 460.8,601.6 455.2,608.5 452.5,615.4 449.7,622.3 448.3,629.3 445.5,643.1 444.2,646.6 440.0,646.6"/>
<polygon fill="#808080" points="459.4,600.2 473.2,591.2 475.3,593.9 462.2,603.6"/>
<polygon fill="#8a0000" points="441.4,582.2 445.5,579.4 452.5,586.3 458.0,584.9 462.2,589.1 453.9,597.4 445.5,591.9 441.4,587.7"/>
<polygon fill="#8a0000" points="440.0,560.0 445.5,560.0 445.5,565.5 440.0,565.5"/>
<polygon fill="#8a0000" points="440.0,568.3 444.2,568.3 444.2,575.2 440.0,575.2"/>
<polygon fill="#8a0000" points="464.2,587.7 470.5,587.7 470.5,593.9 464.2,593.9"/>
<polygon fill="#8a0000" points="473.9,589.1 480.2,589.1 480.2,594.6 473.9,594.6"/>
<polygon fill="#8a0000" points="482.2,588.4 488.5,588.4 488.5,594.6 482.2,594.6"/>
<polygon fill="#8a0000" points="474.6,575.2 481.6,575.2 481.6,584.9 474.6,584.9"/>
<polygon fill="#8a0000" points="447.6,611.9 453.9,611.9 453.9,620.9 447.6,620.9"/>
<polygon fill="#8a0000" points="440.0,623.7 449.7,623.7 449.7,634.8 440.0,634.8"/>
<polygon fill="#000a8c" points="482.9,566.9 491.2,566.9 491.2,575.2 482.9,575.2"/>
<polygon fill="#000a8c" points="493.3,568.3 502.3,568.3 502.3,579.4 493.3,579.4"/>
<polygon fill="#000a8c" points="507.2,569.7 513.4,569.7 513.4,578.0 507.2,578.0"/>
<polygon fill="#000a8c" points="516.9,569.7 525.2,569.7 525.2,578.0 516.9,578.0"/>
<polygon fill="#000a8c" points="524.5,560.0 537.0,560.0 537.0,568.3 524.5,568.3"/>
<polygon fill="#000a8c" points="550.8,560.0 557.7,560.0 557.7,566.2 550.8,566.2"/>
<polygon fill="#000a8c" points="567.4,565.5 575.7,562.8 585.4,569.7 582.7,576.6 575.7,573.9"/>
<polygon fill="#000a8c" points="586.8,568.3 590.0,568.3 590.0,579.4 586.8,579.4"/>
<polygon fill="#000a8c" points="440.0,641.7 442.1,641.7 442.1,646.6 440.0,646.6"/>
<polygon fill="#8a0000" points="505.1,562.8 517.6,562.8 517.6,571.1 505.1,571.1"/>
<polygon fill="#8a0000" points="521.7,566.9 530.0,566.9 530.0,571.8 521.7,571.8"/>
<polygon fill="#8a0000" points="489.2,570.4 494.0,570.4 494.0,575.2 489.2,575.2"/>
<polygon fill="#c8c8c8" points="500.9,560.0 550.8,560.0 550.8,563.5 500.9,563.5"/>
<polygon fill="#c8c8c8" points="534.2,564.2 539.7,564.2 539.7,570.4 534.2,570.4"/>
<polygon fill="#c8c8c8" points="568.8,580.8 573.0,576.6 577.1,580.8 573.0,585.6"/>
<polygon fill="#c8c8c8" points="578.5,578.0 584.0,573.9 590.0,576.6 590.0,607.8 585.4,605.7 581.3,601.6 579.9,594.6 577.1,589.1"/>
<polygon fill="#000a8c" points="537.6,618.2 541.8,614.0 543.9,616.1 539.7,620.9"/>
<polygon fill="#c8c8c8" points="570.0,569.9 658.6,569.9 588.0,609.4 579.7,597.0 575.5,588.6 570.0,583.1"/>
<polygon fill="#000a8c" points="570.0,563.0 576.9,562.3 585.2,569.3 578.3,576.2 570.0,572.0"/>
<polygon fill="#000a8c" points="586.6,566.5 593.5,566.5 593.5,572.0 586.6,572.0"/>
<polygon fill="#000a8c" points="587.3,574.1 594.9,574.1 594.9,580.3 587.3,580.3"/>
<polygon fill="#8a0000" points="614.3,576.2 621.9,576.2 621.9,583.8 614.3,583.8"/>
<polygon fill="#8a0000" points="625.4,578.9 633.7,574.1 637.9,580.3 629.6,584.8"/>
<polygon fill="#000a8c" points="629.6,562.3 636.5,562.3 642.0,577.6 637.9,579.6 630.9,569.3"/>
<polygon fill="#8a0000" points="637.9,558.2 647.6,558.2 647.6,567.9 637.9,567.9"/>
<polygon fill="#c8c8c8" points="642.0,566.5 651.0,566.5 651.0,574.8 642.0,574.8"/>
<polygon fill="#000a8c" points="667.0,552.6 672.5,550.6 677.3,558.9 672.5,560.9"/>
<line stroke="#0a80f0" stroke-width="5.2" x1="189.6" y1="407.8" x2="204.4" y2="389.3"/>
<polygon fill="#000a8c" points="221.1,538.8 227.2,523.3 232.7,524.4 226.1,541.6"/>
<polygon fill="#ff8000" points="722.2,518.3 726.6,516.1 733.9,527.2 728.9,530.5"/>
<polygon fill="#c8c8c8" points="731.1,513.3 735.0,511.1 743.0,523.3 738.3,525.8"/>
<line stroke="#8a0000" stroke-width="5.5" x1="318.8" y1="418.4" x2="332.2" y2="410.3"/>
<polygon fill="#e04800" points="417.2,486.3 426.5,480.4 429.8,484.4 420.5,490.0"/>
<polygon fill="#9a0000" points="430.2,483.7 439.0,479.6 446.5,476.7 458.3,474.1 467.9,473.0 468.7,475.2 462.7,478.1 452.4,481.1 443.5,484.8 436.1,489.2 431.6,491.5 429.4,487.8"/>
<polygon fill="#a80000" points="411.3,495.5 419.8,490.7 424.2,492.2 430.9,490.0 436.1,493.7 438.3,501.1 434.6,506.3 429.4,507.0 427.2,503.3 423.5,501.1 416.8,504.0 413.9,501.1"/>
<polygon fill="#900000" points="424.2,511.5 430.9,507.0 436.1,503.3 443.5,498.1 449.4,494.4 456.8,492.2 458.3,498.1 452.4,502.6 446.5,508.5 440.5,512.9 438.3,518.1 434.6,515.9 429.4,514.4 426.5,515.9"/>
<polygon fill="#8a0000" points="450.9,505.5 461.3,501.1 475.3,496.6 476.1,503.3 468.7,506.3 462.7,508.5 456.8,511.5 453.1,510.0"/>
<polygon fill="#a00000" points="453.9,511.5 462.0,508.5 465.0,517.4 458.3,521.1 455.3,517.4"/>
<polygon fill="#900000" points="463.5,487.0 471.6,484.4 473.8,489.2 465.7,492.2"/>
<polygon fill="#900000" points="473.8,487.8 481.2,485.9 482.0,492.2 475.3,493.7"/>
<polygon fill="#000a8c" points="442.7,488.5 450.9,485.2 453.1,489.2 444.2,492.9"/>
<polygon fill="#000a8c" points="456.1,493.7 463.5,491.5 465.7,496.6 458.3,498.9"/>
<polygon fill="#000a8c" points="465.7,495.9 474.6,493.7 474.9,498.9 466.4,500.3"/>
<polygon fill="#000a8c" points="415.4,517.4 423.5,512.2 427.2,515.9 419.1,521.8"/>
<polygon fill="#c8c8c8" points="454.2,489.6 462.7,486.3 464.2,490.7 456.1,493.7"/>
<polygon fill="#c8c8c8" points="476.1,493.7 482.0,492.2 482.7,496.6 476.8,498.1"/>
<polygon fill="#c8c8c8" points="419.8,521.8 427.2,517.4 429.4,521.1 422.0,525.5"/>
<polygon fill="#808080" points="435.3,493.7 443.5,491.1 444.2,492.9 436.8,495.9"/>
<polygon fill="#808080" points="450.2,503.3 465.7,498.1 466.4,500.0 451.6,504.8"/>
<polygon fill="#808080" points="465.7,492.2 473.8,489.6 474.6,491.5 466.4,494.4"/>
<polygon fill="#f06000" points="445.3,470.0 467.9,470.0 468.3,473.0 449.4,476.7 446.5,474.4"/>
<polygon fill="#ff8a14" points="456.8,470.0 464.2,470.0 464.2,472.2 456.8,473.3"/>
<polygon fill="#c8c8c8" points="465.7,517.4 479.0,512.2 482.0,530.0 468.7,530.0"/>
<polygon fill="#960000" points="443.5,492.2 453.1,488.5 456.8,492.2 458.3,498.1 449.4,495.2 445.0,495.5"/>
<polygon fill="#9a0000" points="431.6,491.5 436.1,488.9 442.4,486.7 443.1,488.5 436.8,492.2 433.1,493.7"/>
<polygon fill="#000a8c" points="442.7,488.5 450.9,485.2 453.1,489.2 444.2,492.9"/>
<polygon fill="#808080" points="435.3,493.7 443.5,491.1 444.2,492.9 436.8,495.9"/>
<polygon fill="#8a0000" points="374.7,586.4 379.5,587.6 377.1,596.0 375.5,600.8 370.7,604.0 369.0,603.2 371.5,594.4"/>
<polygon fill="#8a0000" points="368.2,604.0 375.5,602.4 378.7,604.0 385.1,605.7 389.9,601.6 395.9,602.4 393.9,613.7 391.5,622.5 385.9,623.3 385.1,617.7 378.7,613.7 376.3,620.1 370.7,620.1 369.8,613.7 368.2,608.9"/>
<polygon fill="#8a0000" points="352.2,607.3 357.0,607.3 357.8,616.9 361.0,616.1 362.6,610.5 366.6,609.7 367.4,616.9 365.8,626.5 355.4,627.3 353.8,620.1 350.6,616.9 351.4,612.1"/>
<polygon fill="#8a0000" points="369.0,628.5 378.7,628.1 380.3,632.1 378.7,645.0 373.9,645.0 373.1,636.1 368.2,634.5"/>
<polygon fill="#8a0000" points="379.5,622.5 385.1,621.7 385.1,629.7 380.3,629.7"/>
<polygon fill="#8a0000" points="383.1,637.7 389.1,637.7 389.1,645.0 383.1,645.0"/>
<polygon fill="#8a0000" points="402.7,607.3 408.3,606.5 409.9,610.5 406.7,612.9 403.5,612.1"/>
<polygon fill="#000a8c" points="381.1,590.4 386.7,588.8 389.9,594.4 386.7,598.4 381.9,596.8"/>
<polygon fill="#000a8c" points="393.1,580.0 401.1,580.0 400.3,584.8 396.3,586.4 393.1,584.8"/>
<polygon fill="#000a8c" points="400.3,598.4 405.1,596.8 408.3,600.8 405.9,604.0 401.1,603.2"/>
<polygon fill="#000a8c" points="410.7,599.2 413.9,595.2 420.4,597.6 423.6,601.6 420.4,604.0 414.7,608.1 411.5,605.7"/>
<polygon fill="#000a8c" points="413.9,584.0 417.9,581.6 421.2,584.8 418.7,589.6 414.7,588.0"/>
<polygon fill="#000a8c" points="399.5,624.9 404.3,625.7 405.1,632.1 409.1,632.9 408.3,640.1 404.3,640.9 403.5,645.0 398.7,645.0"/>
<polygon fill="#808080" points="389.9,580.0 394.7,580.0 393.1,594.4 396.3,596.0 395.5,600.8 389.9,600.0 389.1,596.0 386.7,592.0"/>
<polygon fill="#f9f9ea" points="364.6,628.9 367.8,628.9 367.8,635.3 364.6,635.3"/>
<polygon fill="#f9f9ea" points="383.9,632.5 386.3,632.5 386.3,637.3 383.9,637.3"/>
<polygon fill="#8a0000" points="417.6,611.6 422.4,611.6 426.0,618.8 432.0,621.2 438.0,624.8 445.2,627.2 450.0,629.6 450.0,634.4 442.8,633.2 438.0,629.6 432.0,629.6 423.6,634.4 416.4,633.2 414.0,629.6 418.8,624.8 418.8,616.4"/>
<polygon fill="#a00000" points="532.1,405.0 545.9,405.9 545.5,410.2 532.1,409.8"/>
<polygon fill="#808080" points="531.7,424.9 543.3,425.7 543.1,429.2 531.2,428.8"/>
<polygon fill="#808080" points="530.8,435.2 542.4,436.1 542.3,439.5 530.4,438.7"/>
<polygon fill="#808080" points="544.2,414.5 545.9,414.1 545.9,416.2 544.3,416.7"/>
<polygon fill="#e86a00" points="544.2,416.2 557.1,418.0 556.7,422.3 543.7,421.0"/>
<polygon fill="#808080" points="363.3,542.7 369.7,531.0 381.4,520.7 417.6,520.7 430.5,527.8 480.0,527.8 480.0,585.1 359.4,585.1 360.7,572.4 365.9,558.2"/>
<polygon fill="#c8c8c8" points="363.3,585.1 365.9,567.2 372.3,555.6 365.9,545.2 364.6,533.6 369.7,527.1 377.5,532.3 384.0,529.7 395.6,525.9 404.6,532.3 412.4,527.1 416.3,532.3 430.5,527.8 480.0,527.8 480.0,585.1"/>
<polygon fill="#808080" points="389.1,560.8 394.3,554.3 399.5,558.2 395.6,565.9"/>
<polygon fill="#8a0000" points="358.7,542.7 364.6,534.9 374.9,525.9 381.4,522.0 385.2,526.5 378.8,532.3 368.4,538.8 363.3,545.2"/>
<polygon fill="#8a0000" points="372.3,538.8 378.8,534.9 390.4,542.7 385.2,549.1"/>
<polygon fill="#8a0000" points="378.8,551.7 384.0,549.1 389.1,554.3 384.0,558.2"/>
<polygon fill="#000a8c" points="403.3,541.4 408.5,536.2 413.7,541.4 408.5,545.2"/>
<polygon fill="#aadcfa" points="411.1,533.6 415.0,530.4 418.2,534.3 414.3,537.5"/>
<polygon fill="#a00000" points="387.8,569.8 396.9,560.8 407.2,551.7 417.6,542.7 430.5,537.5 442.1,531.0 453.8,528.4 464.1,529.7 469.3,536.2 475.7,538.8 480.0,536.2 480.0,549.1 469.3,554.3 458.9,560.8 449.9,562.0 443.4,565.9 438.2,572.4 430.5,577.6 422.7,580.1 413.7,577.6 407.2,575.0 400.8,573.7 394.3,576.3"/>
<polygon fill="#c01000" points="443.4,531.0 453.8,528.4 464.1,531.0 468.0,538.8 461.5,544.0 451.2,542.7 443.4,538.8"/>
<polygon fill="#900000" points="448.6,544.0 462.8,542.7 469.3,549.1 464.1,554.3 453.8,556.9 447.3,554.3"/>
<polygon fill="#e04000" points="396.9,556.9 400.8,553.0 404.6,556.9 400.8,560.8"/>
<polygon fill="#d83800" points="411.1,546.5 415.0,544.0 418.9,547.8 415.0,551.1"/>
<polygon fill="#000a8c" points="415.0,553.0 420.1,547.8 424.0,553.0 417.6,560.8"/>
<polygon fill="#000a8c" points="430.5,569.8 433.1,568.5 435.7,572.4 431.8,576.3"/>
<polygon fill="#000a8c" points="427.9,540.1 438.2,532.3 446.0,528.4 447.3,532.3 438.2,538.8 430.5,543.3"/>
<polygon fill="#c8c8c8" points="409.8,554.3 413.7,551.7 416.3,555.6 412.4,558.2"/>
<polygon fill="#c8c8c8" points="421.4,554.3 427.9,547.8 430.5,550.4 424.0,556.9"/>
<polygon fill="#c8c8c8" points="434.4,567.2 438.2,564.6 440.8,568.5 436.9,570.4"/>
<polygon fill="#808080" points="442.1,547.8 445.4,545.2 447.3,547.8 444.1,549.8"/>
<polygon fill="#808080" points="417.6,569.8 422.7,569.8 430.5,577.6 427.9,580.8 422.7,580.1"/>
<polygon fill="#8a0000" points="362.0,572.4 371.0,572.4 371.0,582.7 362.0,582.7"/>
<polygon fill="#000a8c" points="365.9,576.3 374.9,575.0 374.9,585.1 365.9,585.1"/>
<polygon fill="#000a8c" points="393.0,577.6 400.8,576.3 400.8,585.1 393.0,585.1"/>
<polygon fill="#808080" points="389.1,577.6 394.3,577.6 391.7,585.1 388.5,585.1"/>
<polygon fill="#c8c8c8" points="465.4,515.5 480.0,511.6 480.0,537.5 469.3,536.2 464.1,529.7"/>
<polygon fill="#8a0000" points="425.3,525.9 433.1,523.3 435.7,528.4 429.2,531.7"/>
<polygon fill="#aadcfa" points="285.9,605.4 293.3,605.4 293.3,618.3 285.9,618.3"/>
<polygon fill="#c8c8c8" points="279.4,618.0 285.9,618.0 285.9,630.3 279.4,630.3"/>
<polygon fill="#c8c8c8" points="288.7,618.3 296.0,618.3 296.0,631.2 288.7,631.2"/>
</g>
<g id="fov" fill="none" stroke="#5e5e5e" stroke-width="1" shape-rendering="crispEdges">
<polyline points="-1.0,549.1 7.3,514.4 15.5,487.2 23.8,464.2 32.0,444.1 40.3,426.0 48.6,409.5 56.8,394.4 65.1,380.3 73.3,367.1 81.6,354.8 89.9,343.2 98.1,332.2 106.4,321.7 114.6,311.8 122.9,302.4 131.2,293.4 139.4,284.8 147.7,276.6 155.9,268.7 164.2,261.2 172.5,254.0 180.7,247.0 189.0,240.4 197.3,234.0 205.5,227.9 213.8,222.0 222.0,216.4 230.3,210.9 238.6,205.7 246.8,200.8 255.1,196.0 263.3,191.4 271.6,187.0 279.9,182.8 288.1,178.7 296.4,174.9 304.6,171.2 312.9,167.7 321.2,164.3 329.4,161.2 337.7,158.1 345.9,155.3 354.2,152.5 362.5,150.0 370.7,147.5 379.0,145.3 387.2,143.1 395.5,141.1 403.8,139.3 412.0,137.6 420.3,136.0 428.5,134.6 436.8,133.3 445.1,132.1 453.3,131.1 461.6,130.1 469.8,129.4 478.1,128.7 486.4,128.2 494.6,127.8 502.9,127.6 511.2,127.5 519.4,127.5 527.7,127.6 535.9,127.9 544.2,128.3 552.5,128.8 560.7,129.5 569.0,130.3 577.2,131.2 585.5,132.2 593.8,133.4 602.0,134.8 610.3,136.2 618.5,137.8 626.8,139.5 635.1,141.4 643.3,143.4 651.6,145.6 659.8,147.9 668.1,150.3 676.4,152.9 684.6,155.7 692.9,158.6 701.1,161.6 709.4,164.8 717.7,168.2 725.9,171.7 734.2,175.4 742.4,179.3 750.7,183.4 759.0,187.6 767.2,192.0 775.5,196.6 783.7,201.5 792.0,206.5 800.3,211.7 808.5,217.1 816.8,222.8 825.1,228.7 833.3,234.9 841.6,241.3 849.8,248.0 858.1,255.0 866.4,262.2 874.6,269.8 882.9,277.7 891.1,286.0 899.4,294.7 907.7,303.7 915.9,313.2 924.2,323.2 932.4,333.7 940.7,344.8 949.0,356.5 957.2,369.0 965.5,382.2 973.7,396.5 982.0,411.8"/>
<polyline points="364.0,149.6 411.7,286.0 455.3,420.0 471.3,480.0 474.8,489.9 479.2,512.5 484.2,536.2 489.3,555.0 493.4,572.6 498.7,581.9 505.1,611.2 507.5,620.6 508.6,635.8"/>
<polyline points="425.7,135.5 437.9,267.8 466.4,420.0 480.2,480.0 484.2,494.8 488.6,512.5 494.5,536.2 499.3,555.0 502.8,572.6 508.6,599.5 513.3,620.6 516.8,632.8"/>
<polyline points="504.5,641.6 504.5,649.5"/>
<polyline points="504.5,648.6 470.0,646.2 444.2,645.8 300.0,643.8 200.0,643.5 100.0,648.0 40.0,652.4 -1.0,655.0"/>
<polyline points="527.4,642.8 540.0,634.6 583.9,612.3 650.0,576.0 720.0,537.4 760.0,515.0 850.0,470.0 920.0,437.0 982.0,411.6"/>
<polyline points="504.5,641.6 508.6,635.8 516.8,632.8 523.8,635.8 527.4,642.8"/>
<circle cx="516.2" cy="642.8" r="2.9" fill="#666666" stroke="none" shape-rendering="auto"/>
</g>
<g id="coast" fill="none" stroke="#000" stroke-width="1" stroke-linejoin="round" shape-rendering="crispEdges">
<polyline points="0.0,226.8 7.4,219.4 13.9,212.0 18.5,205.6 24.9,199.5 29.5,200.6 36.0,197.6 43.4,196.3 48.0,190.8 59.1,187.6 63.7,183.4 69.3,182.8 72.0,187.5 77.6,188.0 81.3,190.8 84.9,192.3 95.1,195.0 103.4,189.9 112.7,183.4 129.3,179.7 147.7,175.1 157.9,172.9 157.0,167.7 156.0,158.5 158.8,154.8 173.6,152.0 177.3,148.3 180.1,140.0"/>
<polygon points="0.9,207.4 7.4,200.9 14.8,195.4 19.4,193.6 21.2,196.3 16.6,202.8 12.0,210.2 8.3,215.7 2.8,219.8 0.0,221.3"/>
<polygon points="43.4,174.2 51.7,167.7 70.2,163.1 78.5,164.4 74.8,175.1 70.2,172.3 55.4,170.5 44.3,175.1"/>
<polygon points="84.0,174.7 96.0,169.5 106.2,167.3 110.8,164.9 118.2,166.2 121.9,171.4 116.3,176.0 110.8,174.2 103.4,175.1 96.0,176.0 86.8,175.1"/>
<polyline points="120.0,166.8 129.3,167.7 142.2,169.9 139.4,163.6 129.3,164.0 114.5,160.3 108.0,158.5 129.3,158.1 140.4,157.5"/>
<polyline points="209.5,0.0 207.5,15.0 208.8,25.0 207.5,37.5 208.8,50.0 212.5,55.0 220.0,82.5 222.5,95.0 226.2,93.8 225.0,85.0 220.0,75.0 212.5,70.0 207.5,67.5 205.0,80.0 203.8,90.0 207.5,97.5 213.8,101.2 207.5,107.5 192.5,115.0 182.5,125.0 175.0,135.0 170.0,141.2 171.2,144.5 165.0,145.0 150.0,152.5 140.0,156.2"/>
<polyline points="220.0,0.0 218.8,15.0 222.5,22.5 230.0,31.2 235.0,25.0 236.2,20.0 243.8,18.8 250.0,12.5 255.0,11.2 262.5,15.0 270.8,15.0"/>
<polyline points="180.5,140.8 270.8,186.2"/>
<polyline points="270.0,10.0 275.0,9.5 285.0,13.0 295.0,18.8 301.3,19.5 305.0,31.3 307.5,42.5 306.3,47.5 300.0,48.8 298.8,60.1 295.0,62.6 297.5,67.6 302.5,70.1 307.5,75.1 311.3,65.1 320.1,58.8 328.8,54.6 333.8,57.6 336.3,61.3 344.6,60.6 342.6,70.1 338.8,78.8 335.1,82.6 330.1,79.6 323.8,83.8 325.1,90.1 337.6,91.3 345.1,95.1 358.8,95.1 362.6,101.4 355.1,112.6 358.8,122.6 357.6,132.6 353.8,142.6 350.1,148.9 350.6,155.7 342.6,157.7 336.3,163.9 328.8,165.2 323.8,171.4 316.3,176.4 307.5,183.9 302.5,192.7 293.8,196.4 291.3,203.0"/>
<polyline points="270.0,185.2 292.5,196.4"/>
<polyline points="423.9,72.6 432.7,74.6 443.9,75.1 450.2,73.3 460.2,72.6 470.2,72.1 468.9,65.1 466.4,60.1 470.2,53.8 472.7,56.3 477.7,58.8 479.0,63.8 476.5,65.1 475.2,67.6 479.0,68.8 482.7,66.3 485.2,61.3 492.7,62.1 505.2,61.3 515.2,60.6 520.3,63.8 519.0,70.1 520.3,75.1 524.0,78.8 532.8,80.6 540.0,81.3"/>
<polyline points="540.0,80.6 552.5,80.1 553.8,86.3 560.0,90.1 561.3,96.3 560.0,100.1 565.0,103.1 572.5,104.6 578.8,110.1 586.3,113.9 593.1,117.6 593.8,113.9 600.1,113.9 602.1,102.6 607.6,105.1 615.1,107.6 620.1,111.4 626.3,110.1 628.8,119.6 635.1,113.9 640.1,110.1 643.1,112.6 643.9,127.6 637.6,130.1 633.1,135.1 632.6,143.9 637.6,152.7 645.1,160.2 651.4,153.9 657.6,158.9 662.6,165.2 660.1,170.2 665.1,178.9 672.6,182.7 670.1,187.7 666.4,192.7 668.9,195.2 672.6,187.7 676.4,196.4 678.9,196.4 682.6,193.9 691.4,200.2 693.2,203.0"/>
<polyline points="651.4,203.0 655.1,198.9 665.1,198.2 675.1,198.9 685.1,200.2 693.2,203.0"/>
<polyline points="961.7,0.0 964.2,10.1 961.2,17.7 962.9,32.9 969.3,45.5 976.8,54.3 978.1,65.7 969.3,75.8 968.7,85.9 969.8,106.2 981.9,109.2 989.5,108.7 998.3,102.4 1005.9,107.4 1008.4,116.3 1012.2,128.9 1007.2,137.8 1005.9,146.6 1008.4,156.7 1012.2,163.0 1017.3,166.8"/>
<polyline points="1032.4,183.3 1037.5,189.6 1042.6,192.1"/>
<polygon points="880.8,48.0 893.4,44.2 906.1,37.9 916.2,37.9 926.3,40.4 941.4,46.8 947.8,46.8 954.1,53.1 959.1,60.7 959.1,64.5 950.3,54.3 938.9,51.8 926.3,49.3 911.1,46.8 895.9,48.0 883.3,51.8 880.8,50.6"/>
<polyline points="302.5,190.0 292.5,197.0"/>
<polyline points="270.0,190.0 292.5,197.0"/>
<polyline points="270.0,267.6 272.5,270.1"/>
<polygon points="286.3,277.6 300.0,271.3 310.0,276.3 325.1,278.8 327.6,292.6 322.6,302.6 313.8,311.4 305.0,300.1 297.5,295.1 288.8,285.1"/>
<polyline points="273.8,320.1 276.3,305.1 281.3,298.1 291.3,295.1 300.0,298.9 311.3,312.6 307.5,320.1 303.8,330.1 307.5,337.6 316.3,340.2 316.3,347.7 312.5,350.2"/>
<polygon points="345.1,290.1 351.3,286.3 360.1,295.1 362.6,305.1 363.8,312.6 357.6,310.1 352.6,307.6 350.1,302.6 345.1,300.1 343.8,292.6"/>
<polyline points="325.1,315.1 332.6,307.6 342.6,305.1 345.1,310.1 350.1,312.6 347.6,320.1 342.6,322.6 332.6,320.1 330.1,330.1 335.1,340.2 340.1,340.2 350.1,335.1 352.6,328.9 347.6,325.1"/>
<polygon points="361.3,320.1 366.3,315.1 370.1,317.6 375.1,318.9 377.6,327.6 372.6,328.9 367.6,326.4 362.6,326.4"/>
<polyline points="380.1,365.2 387.6,362.7 400.1,357.7 410.1,356.4 417.6,360.2 425.2,361.4 435.2,365.2 445.2,370.2 455.2,380.2 458.9,393.0"/>
<polyline points="380.1,365.2 382.6,375.2 395.1,380.2 405.1,380.2 410.1,375.2 420.2,380.2 425.2,387.7"/>
<polyline points="460.2,398.8 445.2,400.0 430.2,403.8 417.6,407.5 407.6,412.5 405.1,420.0 402.6,427.5 395.1,432.6 393.9,441.3 400.1,446.3 406.4,455.1 408.9,465.1 406.4,475.1 402.6,482.6 400.1,490.1 396.4,500.1 395.1,507.6 390.1,516.4 387.6,522.6 383.9,527.6"/>
<polyline points="370.1,411.3 380.1,412.5 390.1,407.5 402.6,405.0 415.1,403.8 425.2,401.3 440.2,400.0 455.2,397.5 460.2,398.8 470.2,402.5 485.2,400.0 500.2,401.3 510.2,405.0 517.7,412.5"/>
<polyline points="340.1,380.0 342.6,390.0 345.1,400.0 350.1,407.5 356.3,418.8 362.6,417.5 365.1,410.0 360.1,405.0 357.6,395.0 360.1,388.8 365.1,385.0 375.1,391.3 387.6,395.0 402.6,390.0 415.1,382.5 422.7,385.0 430.2,380.0"/>
<polyline points="520.3,442.6 522.8,455.1 520.3,475.1 521.5,495.1 520.3,505.1 522.8,515.1"/>
<polyline points="310.0,380.0 312.5,385.0 320.1,390.0 330.1,391.3 332.6,386.3 330.1,380.0"/>
<polyline points="270.0,412.5 280.0,408.8 290.0,405.0 302.5,406.3 301.3,417.5 297.5,430.1 301.3,442.6 307.5,450.1 306.3,460.1 310.0,470.1 307.5,480.1 312.5,490.1 320.1,497.6 327.6,502.6 330.1,510.1 332.6,520.1 335.1,530.2 336.3,540.2"/>
<polyline points="316.3,423.8 320.1,417.5 330.1,412.5 338.8,415.0 345.1,420.0"/>
<polygon points="330.1,433.8 337.6,428.8 347.6,430.1 352.6,440.1 350.1,445.1 342.6,445.1 336.3,440.1"/>
<polyline points="342.6,446.3 345.1,455.1 341.3,465.1 343.8,475.1 345.1,485.1 341.3,495.1 332.6,502.6 328.8,507.6"/>
<polyline points="651.4,203.0 647.6,207.5 646.4,215.0 650.1,222.5 657.6,225.0 652.6,230.0 653.9,235.0 648.9,233.8 648.9,241.3 657.6,242.6 665.1,241.3 667.6,240.1 670.1,243.8 673.9,242.6 677.6,248.8 676.4,251.3 683.9,258.8 690.2,262.6 697.7,270.1 705.2,273.8 712.7,271.3 717.7,280.1 722.7,292.6 737.7,288.8 741.5,282.6 744.0,280.1 746.5,285.1 740.2,291.4 737.7,300.1 742.7,306.4 747.7,302.6 749.0,297.6 752.7,305.1 755.2,298.9 754.0,307.6 750.2,310.1 735.2,310.1 730.2,313.9 737.7,312.6 742.7,310.1 752.7,315.1 765.2,316.4 780.2,315.1 782.7,308.9 784.0,312.6 800.3,311.4 810.0,317.6"/>
<polyline points="651.4,203.0 656.4,198.8 666.4,198.8 675.1,199.5 687.6,202.0 692.7,201.3 690.2,198.8 677.6,196.3 675.1,190.0"/>
<polygon points="665.1,190.0 670.1,190.0 670.1,196.3 666.4,195.5"/>
<polygon points="632.6,256.3 635.1,246.3 640.1,242.6 645.1,247.6 651.4,252.6 642.6,254.6"/>
<polygon points="618.8,278.8 625.1,272.6 630.1,262.6 642.6,257.6 645.1,262.6 642.6,272.6 638.8,280.1 630.1,281.3 622.6,281.3"/>
<polyline points="810.0,328.9 795.3,317.6 782.7,320.1 765.2,320.1 752.7,322.6 745.2,320.1 735.2,321.4 726.4,325.1 732.7,330.1 742.7,335.1 752.7,342.7 765.2,345.2 777.7,341.4 785.2,338.9 790.3,341.4 782.7,348.9 775.2,357.7 767.7,370.2 757.7,377.7 760.2,380.2 770.2,375.2 776.5,373.9 780.2,380.2 782.7,382.7 780.2,387.7 784.0,393.0"/>
<polyline points="720.2,393.0 715.2,387.7 705.2,377.7 695.2,370.2 690.2,360.2 687.6,350.2 682.6,337.6 680.1,332.6 685.1,331.4 690.2,332.6 692.7,340.2 695.2,350.2 700.2,360.2 707.7,367.7 715.2,375.2 720.2,380.2 730.2,383.9 740.2,385.2 750.2,383.9 752.7,387.7 750.2,393.0"/>
<polygon points="625.1,336.4 630.1,335.1 633.8,340.2 637.6,343.9 636.3,350.2 638.8,353.9 633.8,360.2 630.1,356.4 625.1,355.2 620.1,347.7"/>
<polygon points="622.6,370.2 627.6,363.9 633.8,368.9 630.1,373.9 623.8,376.4"/>
<polyline points="1017.3,291.1 1011.0,294.9 1005.9,301.2 1002.1,306.3 998.3,311.3 1002.1,316.4 1004.6,321.4 1004.6,327.8 1008.4,334.1 1004.6,335.3 1002.1,331.6 999.6,339.1 998.3,346.7 997.1,350.5 986.9,349.3 981.9,354.3 979.4,364.4 981.9,372.0 983.2,382.1 984.4,395.0"/>
<polyline points="810.0,316.4 815.1,324.0 817.6,327.8 812.5,331.6 810.0,330.3"/>
<polyline points="1033.7,238.0 1037.5,233.0"/>
<polyline points="1033.7,248.1 1037.5,253.2"/>
<polyline points="1033.7,265.8 1036.2,270.9 1033.7,275.9 1037.5,278.5"/>
<polyline points="707.5,380.0 712.6,385.0 720.1,390.0 727.6,397.5 733.8,402.5 742.6,398.8 748.8,392.5 751.3,385.0"/>
<polyline points="784.1,393.0 782.6,380.0"/>
<polyline points="782.6,380.0 777.6,385.0 775.1,392.5 777.6,403.8 767.6,405.0 770.1,415.0 772.6,427.5 773.9,436.3 778.9,440.1 777.6,447.6 770.1,450.1 765.1,442.6 761.4,441.3 755.1,445.1 751.3,450.1 760.1,451.3 767.6,455.1 777.6,460.1 778.9,463.8 773.9,466.3 772.6,475.1 775.1,485.1 785.1,487.6 782.6,493.9 773.9,497.6 771.4,502.6 780.1,503.9 783.9,507.6 777.6,510.1 767.6,512.6 760.1,507.6 752.6,502.6 736.3,502.6 745.1,497.6 755.1,492.6 762.6,487.6 767.6,480.1 766.4,472.6 760.1,467.6 752.6,466.3 742.6,468.8 730.1,472.6 722.6,476.3 717.6,480.1 710.1,480.1 708.8,485.1 707.5,490.1 708.8,497.6 717.6,502.6 725.1,505.1 727.6,510.1 732.6,516.4 737.6,520.1 742.6,525.1 747.6,530.2 755.1,533.9 762.6,537.7 770.1,538.9 775.1,542.7 776.4,555.2 777.6,570.2 777.6,583.0"/>
<polyline points="702.5,480.1 695.0,482.6 690.0,485.1 685.0,490.1 680.0,490.1 677.5,497.6 675.0,505.1 670.0,517.6 667.5,525.1 671.3,532.7"/>
<polyline points="693.8,496.4 698.8,510.1 697.5,516.4 690.0,520.1 683.8,522.6 697.5,522.6 706.3,527.6 713.8,537.7 720.1,541.4 727.6,542.7 731.3,550.2 730.1,562.7 732.6,583.0"/>
<polyline points="717.6,542.7 712.6,552.7 715.1,562.7 718.8,570.2 720.1,583.0"/>
<polyline points="670.0,555.2 673.8,570.2 675.0,583.0"/>
<polygon points="752.6,421.3 758.8,418.8 761.4,422.5 761.4,427.5 755.1,426.3"/>
<polyline points="783.9,527.6 791.4,525.1 796.4,530.2 805.1,531.4 808.9,533.9 807.6,538.9 800.1,536.4 795.1,537.7 791.4,532.7"/>
<polygon points="782.6,555.2 787.6,551.4 798.9,552.7 802.6,558.9 798.9,566.4 792.6,563.9 785.1,561.4"/>
<polyline points="775.1,583.0 780.1,575.2 787.6,573.9 795.1,572.7"/>
<polyline points="671.3,560.0 673.8,572.5 674.6,585.0 672.6,597.5 670.1,607.5 667.6,617.6 662.6,622.6 660.1,635.1 662.6,645.1 667.6,652.6 672.6,660.1 675.1,665.1 676.3,672.6 685.1,675.1 692.6,673.9 696.4,665.1 700.1,657.6 702.6,651.3 710.1,656.3 720.1,665.1 731.4,675.1 733.9,682.6 740.2,683.9 745.2,681.4 743.9,677.6 745.2,670.1 751.4,665.1 750.2,657.6 745.2,645.1 742.7,637.6 741.4,627.6 743.9,626.3 740.2,617.6 730.2,615.1 722.6,610.1 717.6,597.5 716.4,585.0 717.6,572.5 716.4,560.0"/>
<polyline points="680.1,560.0 680.1,570.0 685.1,580.0 687.6,587.5 685.1,597.5 687.6,605.0 695.1,615.1 702.6,627.6 706.4,635.1 707.6,645.1 708.9,652.6"/>
<polyline points="731.4,560.0 732.7,580.0 737.7,587.5 745.2,595.0 750.2,600.0 760.2,600.0 767.7,595.0 777.7,585.0 780.2,575.0 778.9,560.0"/>
<polyline points="780.2,575.0 787.7,572.5 795.2,571.3"/>
<polyline points="787.7,575.0 789.0,585.0 780.2,590.0 772.7,597.5 771.4,607.5 777.7,612.6 785.2,612.6 789.0,620.1 787.7,626.3 777.7,627.6 775.2,635.1 780.2,645.1 785.2,655.1 785.2,667.6 780.2,672.6 775.2,672.6 770.2,677.6 765.2,685.1 760.2,692.6 756.4,696.4 750.2,696.4 747.7,692.6 743.9,695.1 740.2,700.1 735.2,705.1 727.6,707.6 725.1,700.1 720.1,696.4 717.6,690.1"/>
<polyline points="701.4,685.1 702.6,677.6 707.6,671.4 712.6,673.9 713.9,680.1 720.1,682.6 718.9,692.6 716.4,698.9 720.1,707.6 721.4,717.7 715.1,723.9 710.1,726.4 705.1,730.2 700.1,737.7 697.6,747.7 696.4,763.0"/>
<polyline points="701.4,685.1 705.1,695.1 715.1,705.1"/>
<polygon points="726.4,685.1 730.2,681.4 735.2,683.9 732.7,692.6 727.6,692.6"/>
<polygon points="718.9,695.1 723.9,693.9 726.4,697.6 721.4,698.9"/>
<polygon points="730.2,697.1 733.9,695.6 736.4,698.1 732.7,700.1"/>
<polyline points="756.4,696.4 765.2,707.6 772.7,717.7 780.2,725.2 787.7,723.9 805.2,722.7 820.2,721.4 830.3,717.7 842.8,710.2 844.0,697.6 841.5,685.1 832.8,677.6 822.7,670.1 820.2,662.6 807.7,656.3 795.2,660.1 785.2,667.6"/>
<polyline points="780.2,646.3 792.7,642.6 805.2,640.1 817.7,640.1 820.2,627.6 817.7,612.6 805.2,606.3 792.7,608.8 785.2,612.6"/>
<polyline points="785.2,655.1 797.7,652.6 802.7,655.1 807.7,656.3"/>
<polyline points="817.7,627.6 820.2,645.1 822.7,646.3 820.2,652.6 807.7,656.3"/>
<polyline points="817.7,612.6 830.3,610.1 837.8,606.3 850.0,613.8"/>
<polyline points="832.8,677.6 837.8,667.6 850.0,660.1"/>
<polyline points="780.2,725.2 772.7,735.2 765.2,745.2 775.2,752.7 785.2,755.2 787.7,763.0"/>
<polygon points="753.9,641.3 756.4,636.3 758.9,642.6 757.7,647.6 755.2,646.3"/>
<polygon points="766.4,613.8 770.2,612.6 772.7,617.6 771.4,622.6 768.2,621.3"/>
<polyline points="780.2,560.0 782.7,563.8 792.7,565.0 800.2,562.5 801.5,560.0"/>
<polyline points="813.0,611.1 819.2,614.2 825.4,611.1 834.7,606.4 840.9,609.5 847.1,614.2 859.4,615.7 865.6,614.2 867.2,620.4 862.5,625.0 871.8,631.2 874.9,632.8"/>
<polyline points="874.9,632.8 879.6,620.4 887.3,617.3 896.6,625.0 905.9,620.4 912.1,623.5 919.8,611.1 927.6,611.1 936.8,603.3 941.5,598.7 949.2,606.4 955.4,611.1 957.0,617.3 953.9,625.0 958.5,634.3 963.2,646.7 966.3,656.0 970.9,665.3"/>
<polyline points="874.9,632.8 870.3,635.9 873.4,646.7 865.6,651.3 856.3,659.1 844.0,663.7 834.7,669.9 831.6,679.2 825.4,674.6 822.3,665.3 813.0,659.1"/>
<polyline points="831.6,679.2 842.4,685.4 842.4,705.5 844.0,711.7 834.7,713.3 825.4,721.0 813.0,722.5"/>
<polyline points="813.0,626.6 817.6,628.1 819.2,640.5 822.3,645.1 817.6,652.9 813.0,656.0"/>
<polygon points="589.9,654.9 592.9,651.9 595.6,652.5 594.0,655.4 590.9,656.0"/>
<polyline points="628.6,667.2 631.6,671.2"/>
<polyline points="622.5,684.5 625.5,685.9"/>
<polygon points="602.1,707.9 604.1,699.7 606.6,698.7 605.2,705.8 603.1,709.9"/>
<polyline points="624.5,691.6 620.4,692.6 614.3,694.6 612.3,701.8 610.2,707.9 607.2,710.9 612.3,711.9 613.3,718.0 612.3,722.1 615.3,728.2 614.3,730.2 618.4,729.2 622.5,732.3 624.5,735.3 626.5,740.4 630.6,738.4 634.7,735.3 636.7,738.4 640.8,742.5 642.8,750.6 640.8,756.7 638.7,765.0"/>
<polyline points="624.5,691.6 625.5,695.6 622.5,701.8 626.5,699.7 631.6,700.7 636.7,701.8 635.7,709.9 634.7,716.0 632.6,722.1 640.8,722.1 646.9,728.2 653.0,734.3 659.1,736.3 663.2,742.5 665.2,748.6 667.2,752.6 673.3,749.6 679.4,751.6 680.4,758.7 678.4,765.0"/>
<polyline points="590.9,752.6 598.0,750.6 600.1,742.5 604.1,738.4 610.2,737.4 616.3,738.4 620.4,742.5 621.4,748.6 619.4,754.7 620.4,760.8 622.5,765.0"/>
<polyline points="591.9,752.6 590.9,758.7 594.0,762.8 598.0,765.0"/>
<polyline points="604.1,746.5 607.2,742.5 612.3,740.4 618.4,744.5"/>
<polygon points="591.5,752.3 599.6,750.3 599.6,744.2 603.7,739.1 608.8,737.7 615.9,737.7 619.9,741.2 620.9,746.3 618.9,750.3 620.9,758.4 622.0,772.7 617.9,773.7 612.8,777.7 606.7,781.8 599.6,784.8 594.5,782.8 591.5,778.8 595.5,776.7 596.6,770.6 598.6,765.5 593.5,762.5 592.5,758.4"/>
<polyline points="604.7,740.2 603.7,749.3 607.7,750.3 611.8,748.3 614.8,749.3 618.9,750.3"/>
<polyline points="632.1,763.5 634.1,768.6 631.1,773.7 633.1,777.7 641.3,776.7 647.3,773.7 650.4,775.7 647.3,779.8 643.3,779.8 641.3,783.8 638.2,790.9 634.1,796.0 635.2,797.0 641.3,793.0 647.3,790.9 648.4,786.9 653.4,784.8 657.5,784.4 660.5,782.8 665.6,779.8 671.7,778.8 677.8,775.7 679.8,771.6 680.9,768.6 675.8,766.6 676.8,761.5 679.8,758.4"/>
<polyline points="649.4,811.0 655.5,807.2 659.5,809.2 669.7,806.2 665.6,799.1 662.6,794.0 667.7,797.0 670.7,796.0 677.8,795.0 679.8,788.9 687.0,782.8 688.0,771.6 692.0,766.6 698.1,760.5 700.2,755.4 700.2,748.3 701.2,739.1 704.2,738.1 706.3,741.2 708.3,742.2 706.3,737.1 703.2,734.1 704.2,730.0"/>
<polyline points="692.0,766.6 698.1,768.6 702.2,770.6 706.3,771.6 710.3,774.7 714.4,772.7 718.4,775.7 722.5,775.7 724.5,771.6 726.6,774.7 726.6,770.6 722.5,768.6 720.5,764.5 721.5,762.5 717.4,759.5 716.4,756.4 717.4,749.3 714.4,746.3 717.4,742.2 716.4,736.1 714.4,730.0"/>
<polyline points="698.1,760.5 704.2,756.4 716.4,756.4"/>
<polyline points="775.3,730.0 771.3,738.1 765.2,744.2 771.3,750.3 780.0,753.4"/>
<polyline points="763.1,784.8 767.2,783.8 773.3,779.8 780.0,776.7"/>
<polyline points="276.3,400.0 283.7,408.3 278.1,418.5 274.4,424.1 279.0,427.8 276.3,433.3 283.7,437.0 292.9,434.2 296.6,438.9 295.7,446.3 296.6,451.8 292.0,455.5 287.4,456.4 289.2,461.1"/>
<polyline points="311.4,405.6 318.8,403.7 329.9,403.7 337.3,407.4 341.0,414.8 342.9,422.2 348.4,425.9"/>
<polyline points="311.4,405.6 305.9,411.1 300.3,418.5 298.5,424.1 297.5,433.3 299.4,437.0 302.2,446.3 305.9,451.8 315.1,459.2 313.3,464.8 311.4,470.3 306.8,474.9 311.4,477.7 309.6,483.3 310.5,488.8 307.7,492.5"/>
<polygon points="339.2,429.6 344.7,426.8 350.3,429.6 352.1,437.0 348.4,442.6 342.9,441.6 340.1,437.0"/>
<polyline points="330.8,434.2 337.3,435.2 341.0,442.6 342.9,449.0 344.7,451.8 342.9,455.5 342.9,462.9 341.0,470.3 342.9,477.7 341.0,488.8 339.2,494.4 333.6,498.1 330.8,503.6 327.1,505.5 328.1,509.2"/>
<polyline points="430.0,418.5 413.2,417.6 407.6,413.0 403.9,416.7 404.8,422.2 402.1,425.9 396.5,426.8 394.7,433.3 394.7,440.7 398.4,446.3 403.9,450.0 407.6,455.5 410.4,462.9 409.5,470.3 407.6,477.7 405.8,485.1 402.1,492.5 398.4,498.1 395.6,505.5 392.8,509.2"/>
<polyline points="348.4,400.0 352.1,407.4 355.8,416.7 359.5,420.4 365.1,418.5 366.9,411.1 363.2,403.7 366.9,400.0"/>
<polyline points="370.6,400.0 374.3,405.6 381.7,407.4 392.8,403.7 403.9,400.0"/>
<polyline points="316.0,424.1 318.8,417.6 326.2,414.8 333.6,416.7 341.0,418.5"/>
<polyline points="292.7,197.8 286.7,202.1 279.8,206.4 273.7,213.3 278.0,217.6 280.6,221.9 279.8,226.3 276.3,228.8 278.0,233.2 279.8,240.1 280.6,247.0 276.3,247.8 277.2,252.1 283.2,255.6 276.3,258.2 269.4,260.8 266.8,264.2 272.0,269.4 266.0,268.5 264.2,271.1 268.5,274.6 269.4,283.2 262.5,290.1 258.2,295.3 255.6,302.2 253.9,309.1 247.0,314.3 245.2,309.1 240.1,308.2 240.9,314.3 239.2,321.2 240.9,330.0"/>
<polygon points="203.8,276.3 207.3,274.6 206.4,269.4 208.1,264.2 212.4,266.0 215.9,270.3 218.5,276.3 221.1,274.6 223.7,256.5 227.1,269.4 232.3,284.9 229.7,289.3 224.5,283.2 221.9,295.3 213.3,291.8 215.0,284.9 210.7,284.1 205.5,278.0"/>
<polygon points="285.8,278.0 300.5,271.1 314.3,278.9 324.6,279.8 327.2,290.1 323.8,295.3 322.9,303.9 312.6,310.8 307.4,300.5 300.5,295.3 290.1,291.8 288.4,286.7"/>
<polyline points="250.4,330.0 251.3,317.7 259.0,314.3 260.8,305.7 269.4,303.1 271.1,310.8 273.7,319.5 278.0,309.1 279.8,300.5 284.1,298.8 286.7,299.6 291.0,295.3 298.8,296.2 303.9,300.5 309.1,307.4 310.8,314.3 309.1,317.7 307.4,324.6 310.8,330.0"/>
<polyline points="250.4,320.0 251.8,327.4 254.8,334.8 259.2,343.7 262.9,351.8 259.2,358.5 260.7,364.4 265.2,368.8 269.6,370.3 275.5,371.1 278.5,367.4 279.2,361.4 282.9,355.5 288.8,352.6 296.2,350.3 303.6,348.1 309.6,351.1 315.5,350.3 317.7,346.6 317.0,342.2 312.5,340.7 308.1,339.2 305.1,337.0 306.6,333.3 308.1,328.9 306.6,324.4 305.1,320.0"/>
<polyline points="240.0,343.7 245.9,340.0 250.4,341.5 253.3,346.6 256.3,352.6 254.8,357.0 251.8,360.0 248.9,364.4 245.9,368.8 245.9,376.2 247.4,382.2 250.4,387.3 254.8,388.1 259.2,386.6 262.2,382.2 265.2,380.7 269.6,382.2 274.0,384.4 278.5,385.1 284.4,385.9 290.3,386.6 296.2,387.3 302.2,388.1 308.1,386.6 314.0,385.1 319.9,382.2 325.8,380.7 330.3,382.2 333.3,386.6 333.3,392.5 331.8,397.0 325.8,397.0 322.9,395.5 317.0,394.0 312.5,391.0 306.6,391.8 300.7,392.5 296.2,394.7 291.8,398.4 287.4,401.4 281.4,400.7 277.0,399.9 272.6,400.7 268.1,399.2 263.7,397.0 260.7,395.5 256.3,397.0 251.8,399.9 250.4,402.1 254.8,402.9 259.2,404.4 263.7,405.1 269.6,402.9 274.0,403.6 278.5,402.1"/>
<polyline points="274.0,423.6 278.5,417.7 280.0,411.8 284.4,408.8 288.8,410.3 293.3,407.3 299.2,405.8 306.6,405.1 314.0,404.4 322.9,404.4 331.8,405.8 337.7,408.8 342.1,416.2 343.6,422.1 346.6,426.6 351.0,432.5 352.5,440.0"/>
<polyline points="299.2,440.0 298.5,429.5 302.2,420.7 308.1,413.3 314.0,408.8"/>
<polyline points="302.2,360.0 306.6,358.5 309.6,357.0 312.5,358.5 314.0,361.4 319.9,360.0 324.4,361.4 325.8,365.9 327.3,370.3 322.9,373.3 317.0,374.8 311.0,377.7 306.6,379.2 302.2,379.2"/>
<polygon points="337.7,374.8 342.1,372.5 346.6,373.3 347.3,377.7 343.6,380.7 339.2,380.7"/>
<polygon points="337.7,348.1 340.7,346.6 343.6,347.4 342.1,349.6"/>
<polygon points="337.7,355.5 343.6,352.6 349.5,348.1 354.0,345.2 355.5,349.6 354.0,354.0 356.9,358.5 354.0,362.9 349.5,364.4 343.6,362.9 339.2,361.4"/>
<polygon points="331.8,328.9 336.2,328.9 343.6,327.4 351.0,328.9 354.0,331.8 349.5,334.8 343.6,336.3 340.7,340.7 333.3,340.7 331.8,334.8"/>
<polygon points="359.9,342.2 364.3,339.2 367.3,340.7 365.8,342.9 361.4,343.7"/>
<polygon points="370.3,355.5 374.7,349.6 376.2,343.7 380.6,340.7 385.1,336.3 388.0,339.2 386.5,346.6 383.6,351.1 382.1,358.5 377.7,362.9 373.2,361.4"/>
<polygon points="370.3,364.4 373.2,362.9 374.7,367.4 373.2,373.3 370.3,371.8"/>
<polygon points="340.7,388.1 342.1,383.6 348.1,382.2 355.5,380.7 358.4,376.2 359.9,371.8 362.9,367.4 364.3,371.8 362.9,379.2 364.3,386.6 365.8,394.0 367.3,402.9 365.8,411.8 364.3,420.7 358.4,422.1 352.5,416.2 346.6,408.8 343.6,401.4 342.1,394.0"/>
<polyline points="364.3,391.0 367.3,386.6 373.2,386.6 379.1,383.6 383.6,382.2 388.0,383.6 393.9,385.1 400.0,386.6"/>
<polyline points="380.6,373.3 383.6,367.4 388.0,364.4 393.9,361.4 400.0,360.0"/>
<polyline points="367.3,320.0 370.3,325.9 374.7,328.9 376.2,324.4 374.7,320.0"/>
<polyline points="317.0,423.6 322.9,417.7 328.8,414.7 334.7,416.2 342.1,420.7"/>
<polygon points="339.2,429.5 343.6,426.6 349.5,428.1 352.5,434.0 349.5,438.4 343.6,436.9"/>
<polyline points="984.4,395.0 981.2,405.0 981.2,425.0 993.8,430.0 1001.3,425.0 1011.3,435.0 1021.3,437.6 1023.8,445.1 1016.3,455.1 1011.3,470.2 1001.3,480.2 991.2,485.2 981.2,492.7 971.2,505.3 963.7,520.3 961.2,535.4 956.2,540.4 961.2,550.4 971.2,555.4 981.2,557.9 991.2,555.4 1006.3,555.4 1021.3,554.4"/>
<polygon points="505.1,610.0 508.0,611.2 511.0,614.7 511.6,618.2 512.1,622.3 514.5,621.7 516.8,618.8 518.0,615.3 521.5,616.5 525.0,614.1 528.5,613.5 530.9,614.7 534.4,612.4 537.3,609.4 540.0,610.0 541.0,611.2 544.1,611.2 545.1,614.2 547.2,617.3 550.2,619.3 551.2,626.5 548.2,629.5 541.0,633.6 536.0,637.6 529.9,641.7 526.8,644.8 522.7,645.8 520.3,645.7 516.8,644.0 513.3,642.2 509.8,641.6 503.4,641.6 505.1,639.9 507.5,636.9 507.5,634.6 505.1,631.1 502.2,629.9 498.7,629.3 501.6,627.6 505.1,625.2 507.5,622.9 505.1,621.7 501.6,622.3 498.1,621.1 500.4,617.0 501.6,613.5 503.9,612.4"/>
<polyline points="591.6,427.2 590.5,428.9 587.2,429.4 584.4,431.1 583.3,433.3 583.9,436.1 586.1,438.3 588.3,441.1 591.1,443.3 596.1,446.1 598.3,446.1 599.4,444.4 600.5,445.0 599.4,447.7 601.6,451.1 605.0,453.9 609.4,456.6"/>
<polyline points="597.2,424.4 600.0,427.2 601.1,428.9 605.0,428.3 608.3,430.0 610.5,430.5 613.8,431.7 617.2,432.8"/>
<polyline points="608.3,432.2 607.7,435.0 608.9,438.3 611.1,441.1 612.2,445.0 613.3,450.0"/>
<polyline points="608.3,432.2 612.7,436.1 616.1,436.6 617.7,440.0 618.3,443.3 621.6,441.6 623.8,441.1 623.3,436.1"/>
<polyline points="262.5,15.0 267.2,19.9 268.3,12.9 273.0,9.4 276.0,9.6"/>
</g>
<g id="daycoast" clip-path="url(#day)" fill="none" stroke="#000" stroke-width="1" stroke-linejoin="round" shape-rendering="crispEdges">
<polyline points="284.9,457.5 281.6,460.0 279.9,463.3 276.6,466.6 269.9,466.6 263.3,465.0 258.3,462.5 259.1,456.6 258.3,453.3 256.6,449.1 254.9,451.6 248.3,453.3 242.1,453.3 233.2,454.4 224.3,454.4 219.9,447.8 215.4,446.6 206.5,448.9 199.9,444.4 193.2,442.2 184.3,440.0 175.5,438.9 164.4,440.0 153.3,443.3 147.7,448.9 148.8,456.6 146.6,461.1 138.8,465.5 132.2,470.0 137.7,482.2 138.8,493.3 136.6,504.4 135.5,513.3 136.6,524.4 139.9,531.0 143.3,539.9 142.1,547.7 135.5,548.8 128.8,553.2 122.2,562.1 117.7,575.4 114.4,584.3 113.3,591.0 122.2,592.1 128.8,591.0 133.3,584.3 137.7,579.9 144.4,573.2 153.3,567.6 155.5,568.8 166.6,571.0 177.7,571.0 184.3,566.5 191.0,557.7 194.3,551.0 196.5,543.2 198.8,538.8 202.1,537.7 211.0,535.5 219.9,531.0 226.5,524.4 231.0,520.0 235.4,517.7 239.8,517.7 244.3,524.4 250.9,535.5 253.1,550.0 249.9,552.6 249.2,557.8 251.8,561.7 255.0,566.2 250.5,568.8 246.6,574.6 241.5,578.5 239.5,582.4 239.5,588.9 238.9,597.9 244.0,599.9 251.8,599.2 259.6,598.6 262.2,594.0 264.8,592.1 271.2,591.7 270.6,596.6 268.7,604.4 266.7,614.8 264.8,622.5 263.5,630.3 262.2,636.8 258.3,638.1 255.1,640.7 254.4,645.9 255.7,655.1 258.2,660.0 261.5,663.3 264.8,670.0 261.5,676.7 264.8,685.0 266.5,696.6 262.3,708.3 259.8,711.6 249.8,711.6 241.5,710.0 233.2,709.1 219.9,711.6 214.9,708.3 206.6,703.3 199.9,695.8 193.2,689.1 183.3,682.5 176.6,679.6 159.9,679.1 148.3,678.3 133.3,680.8 118.3,683.3 123.3,685.8 148.3,683.3 163.3,687.5 173.3,691.6 179.9,698.3 180.8,705.0 173.3,707.5 168.3,708.3 161.6,714.9 157.4,726.6 159.9,734.9 163.3,741.6 169.9,746.6 174.9,749.9 186.6,743.3 191.6,743.3 188.2,756.6 173.3,758.2 166.6,755.7 148.3,750.7 138.3,749.9 130.8,750.7 126.6,746.6 128.3,740.8 133.3,738.3 146.6,737.4 149.9,737.4 148.3,733.3 138.3,729.9 130.8,725.8 125.0,728.3 115.0,725.8 111.7,722.4 100.0,720.8 90.0,720.5 82.0,724.0 78.0,735.0 70.0,735.3 62.5,730.1 54.6,724.9 46.8,721.0 36.4,719.7 15.6,721.0 13.0,715.8 7.8,718.4 0.0,722.3"/>
<polygon points="263.3,442.5 266.6,436.7 271.6,434.2 275.7,433.3 279.9,436.7 281.6,440.0 278.2,443.3 271.6,442.5 266.6,443.3"/>
<polygon points="221.6,473.3 225.0,470.0 224.2,465.0 228.3,463.3 234.9,460.0 243.3,458.3 249.9,457.5 253.3,459.1 249.9,463.3 248.3,470.0 246.6,476.6 244.9,483.3 244.1,493.3 239.9,494.1 237.4,491.6 238.3,483.3 237.4,478.3 231.6,476.6 226.6,475.8"/>
<polygon points="255.7,502.2 257.6,496.7 261.3,495.3 269.6,495.3 271.5,498.5 273.3,503.1 277.0,507.3 282.6,508.7 284.4,504.1 285.3,501.7 291.8,502.2 299.2,501.3 303.8,499.4 306.6,496.7 308.9,493.9 350.0,494.0 350.0,545.0 332.5,543.8 320.0,540.0 310.0,532.0 308.5,530.0 305.2,531.8 303.8,536.4 303.4,542.9 305.2,548.5 304.9,550.0 301.0,556.5 299.7,563.0 293.3,568.1 287.9,560.4 285.5,550.0 285.3,549.4 283.9,543.8 282.6,544.8 281.6,550.0 281.6,566.8 277.7,570.1 272.5,560.4 270.6,550.0 268.7,544.8 267.3,540.1 267.8,535.5 271.5,530.9 270.5,522.6 269.6,517.0 267.8,512.4 264.1,509.6 258.5,506.8"/>
<polygon points="204.9,742.4 216.6,734.9 226.5,729.9 236.5,724.9 249.9,716.6 258.2,716.6 254.8,719.9 244.9,724.9 238.2,730.8 243.2,731.6 244.9,738.3 246.5,743.3 256.5,746.6 257.3,751.6 253.2,754.9 256.5,759.9 249.9,764.9 246.5,768.2 249.9,771.6 244.9,776.6 243.2,781.5 238.2,774.9 233.2,769.9 226.5,766.6 229.9,761.6 219.9,754.9 213.2,748.2 206.6,744.9"/>
<polygon points="358.5,594.0 363.1,575.5 372.4,553.9 380.0,540.0 420.0,540.0 420.0,646.0 391.6,646.4 389.3,651.0 386.3,657.2 383.2,661.8 378.5,662.6 373.9,658.7 370.8,651.0 366.2,646.4 360.0,630.0 357.0,610.0"/>
<polygon points="215.8,489.1 220.0,488.3 225.0,489.9 227.5,493.3 224.1,494.9 219.1,493.3"/>
<polygon points="221.6,512.4 225.0,509.9 229.1,506.6 230.8,510.8 227.5,512.4 223.3,513.3"/>
<polygon points="288.1,485.1 290.0,482.8 292.7,480.0 302.9,480.0 303.8,485.6 301.1,488.3 296.4,489.7 291.8,488.3"/>
<polygon points="215.8,491.0 220.0,489.0 218.0,494.0"/>
<polygon points="149.0,298.8 152.8,296.2 154.1,304.0 160.6,311.8 165.8,309.2 169.7,307.9 169.7,316.9 165.8,319.5 172.3,329.9 176.2,335.1 176.2,345.4 172.3,337.7 168.4,332.5 160.6,327.3 155.4,319.5 151.6,314.4 149.0,306.6"/>
<polygon points="120.5,337.7 126.9,340.3 132.1,345.4 136.0,348.0 134.7,355.8 132.1,361.0 129.5,353.2 126.9,348.0 121.8,342.8"/>
<polygon points="100.0,399.0 106.9,397.9 113.8,400.0 119.0,397.9 124.1,400.0 120.7,403.4 113.8,402.4 106.9,403.4 101.7,402.4"/>
<polygon points="29.3,452.4 32.8,449.0 41.4,442.1 48.3,436.9 55.2,431.7 58.6,424.8 62.1,426.6 60.3,433.4 53.4,436.9 48.3,442.1 44.8,449.0 41.4,452.4 34.5,455.9 30.3,457.6"/>
<polygon points="36.2,468.0 44.8,464.5 51.7,459.3 56.9,449.0 65.5,442.1 72.4,438.6 75.9,442.1 74.1,449.0 65.5,452.4 58.6,455.9 55.2,462.8 51.7,468.0 41.4,470.3"/>
</g>



<polygon fill="#e8f5fe" shape-rendering="crispEdges" points="1019,811 1038,792 1038,811"/>
<!-- white strip -->
<rect x="1038" y="0" width="45" height="811" fill="#fff"/>

<!-- title -->
<text x="5.5" y="15" font-size="18" letter-spacing="0.5">January, 15 2024</text>
<text x="7" y="32" font-size="18" letter-spacing="0.3">1743:00 UT</text>

<!-- colour bar -->
<text x="973" y="19.6" font-size="17.5">Velocity (m/s)</text>
<g shape-rendering="crispEdges">
<rect x="1016.5" y="44.5" width="17" height="271" fill="#000"/>
<rect x="1017" y="45" width="16" height="26" fill="url(#g1)"/>
<rect x="1017" y="72" width="16" height="26" fill="url(#g2)"/>
<rect x="1017" y="99" width="16" height="26" fill="url(#g3)"/>
<rect x="1017" y="126" width="16" height="26" fill="url(#g4)"/>
<rect x="1017" y="153" width="16" height="24" fill="url(#g5)"/>
<rect x="1017" y="177" width="16" height="3" fill="#d8d8d8"/>
<rect x="1017" y="181" width="16" height="2" fill="#e0e2e0"/>
<rect x="1017" y="183" width="16" height="24" fill="url(#r1)"/>
<rect x="1017" y="208" width="16" height="26" fill="url(#r2)"/>
<rect x="1017" y="235" width="16" height="26" fill="url(#r3)"/>
<rect x="1017" y="262" width="16" height="26" fill="url(#r4)"/>
<rect x="1017" y="289" width="16" height="26" fill="url(#r5)"/>
</g>
<g font-size="13" letter-spacing="1" text-anchor="end">
<text x="1008" y="45">500</text>
<text x="1008" y="72">400</text>
<text x="1008" y="99">300</text>
<text x="1008" y="126">200</text>
<text x="1008" y="153">100</text>
<text x="1008" y="180">0</text>
<text x="1008" y="207">-100</text>
<text x="1008" y="234">-200</text>
<text x="1008" y="261">-300</text>
<text x="1008" y="288">-400</text>
<text x="1008" y="315">-500</text>
</g>
<g font-size="13">
<text x="1042" y="56.5">toward</text>
<text x="1042" y="177">10</text>
<text x="1042" y="193">-10</text>
<text x="1042" y="315">away</text>
</g>

<!-- frequency panel -->
<g id="freq" shape-rendering="crispEdges">
<rect x="79.5" y="589.5" width="17" height="170" fill="none" stroke="#000" stroke-width="1"/>
<line x1="79" y1="606.5" x2="97" y2="606.5" stroke="#000"/>
<line x1="79" y1="623.5" x2="97" y2="623.5" stroke="#000"/>
<line x1="79" y1="640.5" x2="97" y2="640.5" stroke="#000"/>
<line x1="79" y1="657.5" x2="97" y2="657.5" stroke="#000"/>
<line x1="79" y1="674.5" x2="97" y2="674.5" stroke="#000"/>
<line x1="79" y1="691.5" x2="97" y2="691.5" stroke="#000"/>
<line x1="79" y1="708.5" x2="97" y2="708.5" stroke="#000"/>
<line x1="79" y1="725.5" x2="97" y2="725.5" stroke="#000"/>
<line x1="79" y1="742.5" x2="97" y2="742.5" stroke="#000"/>
<rect x="131.5" y="589.5" width="17" height="170" fill="none" stroke="#000" stroke-width="1"/>
<line x1="131" y1="606.5" x2="149" y2="606.5" stroke="#000"/>
<line x1="131" y1="623.5" x2="149" y2="623.5" stroke="#000"/>
<line x1="131" y1="640.5" x2="149" y2="640.5" stroke="#000"/>
<line x1="131" y1="657.5" x2="149" y2="657.5" stroke="#000"/>
<line x1="131" y1="674.5" x2="149" y2="674.5" stroke="#000"/>
<line x1="131" y1="691.5" x2="149" y2="691.5" stroke="#000"/>
<line x1="131" y1="708.5" x2="149" y2="708.5" stroke="#000"/>
<line x1="131" y1="725.5" x2="149" y2="725.5" stroke="#000"/>
<line x1="131" y1="742.5" x2="149" y2="742.5" stroke="#000"/>
</g><g font-size="13" letter-spacing="0.5">
<text x="72" y="597" text-anchor="end">18</text>
<text x="157.5" y="597">18</text>
<text x="72" y="614" text-anchor="end">17</text>
<text x="157.5" y="614">17</text>
<text x="72" y="631" text-anchor="end">16</text>
<text x="157.5" y="631">16</text>
<text x="72" y="648" text-anchor="end">15</text>
<text x="157.5" y="648">15</text>
<text x="72" y="665" text-anchor="end">14</text>
<text x="157.5" y="665">14</text>
<text x="72" y="682" text-anchor="end">13</text>
<text x="157.5" y="682">13</text>
<text x="72" y="699" text-anchor="end">12</text>
<text x="157.5" y="699">12</text>
<text x="72" y="716" text-anchor="end">11</text>
<text x="157.5" y="716">11</text>
<text x="72" y="733" text-anchor="end">10</text>
<text x="157.5" y="733">10</text>
<text x="72" y="750" text-anchor="end">9</text>
<text x="157.5" y="750">9</text>
<text x="72" y="767" text-anchor="end">8</text>
<text x="157.5" y="767">8</text>
</g>
<rect x="76" y="716" width="24" height="4" fill="#fa3c0a"/>
<rect x="129" y="712" width="23" height="4" fill="#fa3c0a"/>
<text x="71" y="564.5" font-size="18" letter-spacing="0.25">Frequency</text>
<text x="75" y="582.5" font-size="16" letter-spacing="1">icw</text>
<text x="129.5" y="582.5" font-size="16" letter-spacing="1">ice</text>
<text x="488" y="666" font-size="13">icw</text>
<text x="524.3" y="666" font-size="13">ice</text>
</svg>
</body></html>
